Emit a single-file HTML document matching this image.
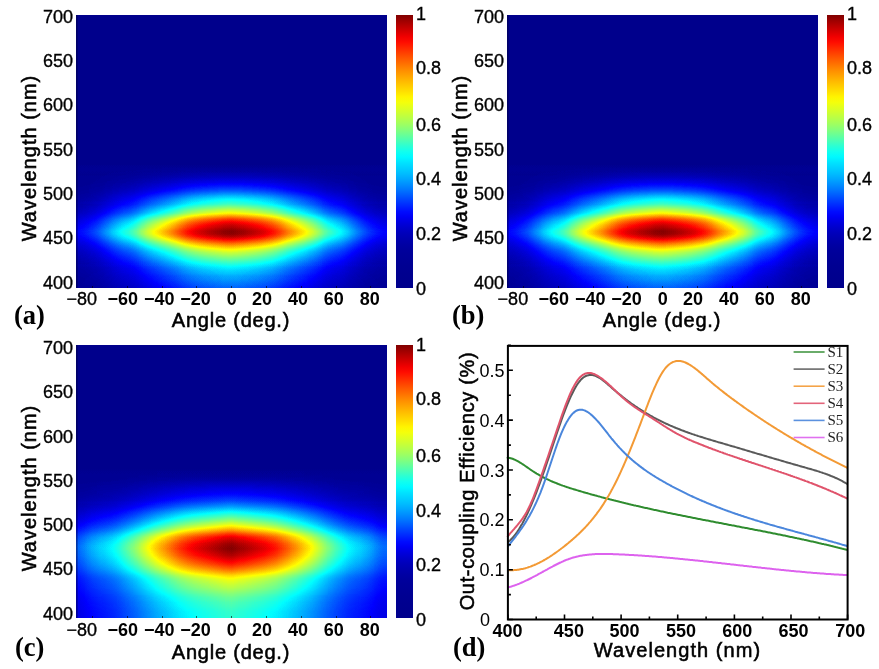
<!DOCTYPE html>
<html><head><meta charset="utf-8"><style>
*{margin:0;padding:0;box-sizing:border-box}
html,body{width:879px;height:669px;background:#fff;overflow:hidden}
body{position:relative;font-family:"Liberation Sans", sans-serif;color:#000}
#wrap{position:absolute;left:0;top:0;width:879px;height:669px;background:#fff;will-change:transform}
.hm{position:absolute;width:311px;height:273px;filter:url(#jet);isolation:isolate;overflow:hidden}
.hm .term{position:absolute;left:0;top:0;width:100%;height:100%;isolation:isolate}
.hm .v,.hm .h{position:absolute;left:0;top:0;width:100%;height:100%}
.hm .h{mix-blend-mode:multiply}
.frame{position:absolute;width:2px;height:273px;background:linear-gradient(to right,rgba(0,0,60,0.55),rgba(0,0,60,0.2))}
.cb{position:absolute;width:17px;height:273px;background:linear-gradient(to top,#00008c 0%,#00008d 2%,#00008e 4%,#000090 6%,#000092 8%,#000095 10%,#000098 12%,#00009c 14%,#0000a4 16%,#0000ae 18%,#0000ba 20%,#0000ca 22%,#0000de 24%,#0000f4 26%,#000cff 28%,#0026ff 30%,#0040ff 32%,#005cff 34%,#0077ff 36%,#0090ff 38%,#00a8ff 40%,#00beff 42%,#00d1ff 44%,#00e4ff 46%,#00f9ff 48%,#11ffee 50%,#2cffd3 52%,#4affb5 54%,#67ff98 56%,#84ff7b 58%,#9eff61 60%,#b5ff4a 62%,#cbff34 64%,#e0ff1f 66%,#f4ff0b 68%,#fff400 70%,#ffdf00 72%,#ffcb00 74%,#ffb600 76%,#ffa000 78%,#ff8a00 80%,#ff7200 82%,#ff5a00 84%,#ff4100 86%,#ff2700 88%,#ff0d00 90%,#f20000 92%,#d60000 94%,#ba0000 96%,#9d0000 98%,#800000 100%)}
.t{position:absolute;white-space:nowrap;line-height:20px;height:20px}
.cbl{font-size:18px;-webkit-text-stroke:0.35px #000}
.yl{font-size:18px;width:72px;text-align:right;-webkit-text-stroke:0.35px #000}
.xl{font-size:18px;font-weight:bold;width:60px;text-align:center}
.tk{position:absolute;width:1px;height:2px;background:rgba(0,0,0,0.6)}
.xt{font-size:20px;width:160px;text-align:center;letter-spacing:0.78px;-webkit-text-stroke:0.55px #000}
.yt{font-size:20px;width:200px;text-align:center;transform:rotate(-90deg);letter-spacing:1.0px;-webkit-text-stroke:0.55px #000}
.pl{font-family:"Liberation Serif", serif;font-size:26.5px;font-weight:bold;line-height:28px;height:28px}
.dyl{font-size:18px;width:60px;text-align:right}
.dxl{font-size:18px;font-weight:bold;width:60px;text-align:center}
.leg{font-family:"Liberation Serif", serif;font-size:15px;line-height:16px;height:16px;color:#222}
</style></head><body>
<div id="wrap"><svg width="0" height="0" style="position:absolute"><filter id="jet" color-interpolation-filters="sRGB" x="0" y="0" width="1" height="1"><feComponentTransfer><feFuncR type="table" tableValues="0 0 0 0 0.5 1 1 1 0.5"/><feFuncG type="table" tableValues="0 0 0.5 1 1 1 0.5 0 0"/><feFuncB type="table" tableValues="0.55 1 1 1 0.5 0 0 0 0"/></feComponentTransfer></filter></svg>
<div class="hm" style="left:76px;top:15px"><div class="term" style=""><div class="v" style="background:linear-gradient(to bottom,#000000 0.00%,#000000 1.10%,#000000 2.20%,#000000 3.30%,#000000 4.40%,#000000 5.49%,#000000 6.59%,#000000 7.69%,#000000 8.79%,#000000 9.89%,#000000 10.99%,#000000 12.09%,#000000 13.19%,#000000 14.29%,#000000 15.38%,#000000 16.48%,#000000 17.58%,#000000 18.68%,#000000 19.78%,#000000 20.88%,#000000 21.98%,#000000 23.08%,#000000 24.18%,#000000 25.27%,#000000 26.37%,#000000 27.47%,#000000 28.57%,#000000 29.67%,#000000 30.77%,#000000 31.87%,#000000 32.97%,#000000 34.07%,#000000 35.16%,#000000 36.26%,#000000 37.36%,#000000 38.46%,#000000 39.56%,#000000 40.66%,#000000 41.76%,#000000 42.86%,#000000 43.96%,#000000 45.05%,#000000 46.15%,#000000 47.25%,#000000 48.35%,#000000 49.45%,#000000 50.55%,#000000 51.65%,#000000 52.75%,#000000 53.85%,#000000 54.95%,#000000 56.04%,#000000 57.14%,#000000 58.24%,#000000 59.34%,#000000 60.44%,#000000 61.54%,#000000 62.64%,#000000 63.74%,#000000 64.84%,#000000 65.93%,#000000 67.03%,#000000 68.13%,#020202 69.23%,#101010 70.33%,#212121 71.43%,#353535 72.53%,#515151 73.63%,#717171 74.73%,#929292 75.82%,#b3b3b3 76.92%,#d3d3d3 78.02%,#f5f5f5 79.12%,#ededed 80.22%,#cdcdcd 81.32%,#a8a8a8 82.42%,#868686 83.52%,#696969 84.62%,#505050 85.71%,#3c3c3c 86.81%,#2b2b2b 87.91%,#1c1c1c 89.01%,#0f0f0f 90.11%,#040404 91.21%,#000000 92.31%,#000000 93.41%,#000000 94.51%,#000000 95.60%,#000000 96.70%,#000000 97.80%,#000000 98.90%,#000000 100.00%)"></div><div class="h" style="background:linear-gradient(to right,#202020 0.00%,#222222 1.29%,#252525 2.57%,#292929 3.86%,#2e2e2e 5.14%,#333333 6.43%,#3a3a3a 7.72%,#424242 9.00%,#494949 10.29%,#525252 11.58%,#595959 12.86%,#606060 14.15%,#666666 15.43%,#6b6b6b 16.72%,#717171 18.01%,#797979 19.29%,#838383 20.58%,#8c8c8c 21.86%,#959595 23.15%,#9d9d9d 24.44%,#a4a4a4 25.72%,#ababab 27.01%,#b2b2b2 28.30%,#b9b9b9 29.58%,#c0c0c0 30.87%,#c8c8c8 32.15%,#d0d0d0 33.44%,#d7d7d7 34.73%,#dedede 36.01%,#e3e3e3 37.30%,#e8e8e8 38.59%,#ececec 39.87%,#efefef 41.16%,#f3f3f3 42.44%,#f5f5f5 43.73%,#f8f8f8 45.02%,#fafafa 46.30%,#fdfdfd 47.59%,#fefefe 48.87%,#ffffff 50.16%,#fdfdfd 51.45%,#fbfbfb 52.73%,#f9f9f9 54.02%,#f6f6f6 55.31%,#f3f3f3 56.59%,#f0f0f0 57.88%,#ededed 59.16%,#e9e9e9 60.45%,#e4e4e4 61.74%,#dfdfdf 63.02%,#d9d9d9 64.31%,#d2d2d2 65.59%,#cacaca 66.88%,#c2c2c2 68.17%,#bbbbbb 69.45%,#b4b4b4 70.74%,#adadad 72.03%,#a6a6a6 73.31%,#9e9e9e 74.60%,#979797 75.88%,#8e8e8e 77.17%,#858585 78.46%,#7b7b7b 79.74%,#737373 81.03%,#6d6d6d 82.32%,#676767 83.60%,#626262 84.89%,#5b5b5b 86.17%,#545454 87.46%,#4b4b4b 88.75%,#434343 90.03%,#3c3c3c 91.32%,#353535 92.60%,#2f2f2f 93.89%,#2a2a2a 95.18%,#262626 96.46%,#232323 97.75%,#202020 99.04%)"></div></div><div class="term" style=";mix-blend-mode:plus-lighter"><div class="v" style="background:linear-gradient(to bottom,#000000 0.00%,#000000 1.10%,#000000 2.20%,#000000 3.30%,#000000 4.40%,#000000 5.49%,#000000 6.59%,#000000 7.69%,#000000 8.79%,#000000 9.89%,#000000 10.99%,#000000 12.09%,#000000 13.19%,#000000 14.29%,#000000 15.38%,#000000 16.48%,#000000 17.58%,#000000 18.68%,#000000 19.78%,#000000 20.88%,#000000 21.98%,#000000 23.08%,#000000 24.18%,#000000 25.27%,#000000 26.37%,#000000 27.47%,#000000 28.57%,#000000 29.67%,#000000 30.77%,#000000 31.87%,#000000 32.97%,#000000 34.07%,#000000 35.16%,#000000 36.26%,#000000 37.36%,#000000 38.46%,#000000 39.56%,#000000 40.66%,#000000 41.76%,#000000 42.86%,#000000 43.96%,#000000 45.05%,#000000 46.15%,#000000 47.25%,#000000 48.35%,#000000 49.45%,#000000 50.55%,#000000 51.65%,#000000 52.75%,#000000 53.85%,#000000 54.95%,#000000 56.04%,#000000 57.14%,#000000 58.24%,#010101 59.34%,#040404 60.44%,#080808 61.54%,#0f0f0f 62.64%,#171717 63.74%,#232323 64.84%,#343434 65.93%,#484848 67.03%,#5c5c5c 68.13%,#6d6d6d 69.23%,#707070 70.33%,#707070 71.43%,#6a6a6a 72.53%,#676767 73.63%,#5f5f5f 74.73%,#4f4f4f 75.82%,#3a3a3a 76.92%,#222222 78.02%,#090909 79.12%,#0f0f0f 80.22%,#242424 81.32%,#353535 82.42%,#424242 83.52%,#4c4c4c 84.62%,#535353 85.71%,#595959 86.81%,#5f5f5f 87.91%,#636363 89.01%,#656565 90.11%,#656565 91.21%,#5a5a5a 92.31%,#4b4b4b 93.41%,#3f3f3f 94.51%,#333333 95.60%,#2a2a2a 96.70%,#212121 97.80%,#191919 98.90%,#121212 100.00%)"></div><div class="h" style="background:linear-gradient(to right,#0e0e0e 0.00%,#0f0f0f 1.29%,#111111 2.57%,#141414 3.86%,#171717 5.14%,#1b1b1b 6.43%,#202020 7.72%,#262626 9.00%,#2d2d2d 10.29%,#343434 11.58%,#3b3b3b 12.86%,#414141 14.15%,#474747 15.43%,#4c4c4c 16.72%,#525252 18.01%,#5a5a5a 19.29%,#646464 20.58%,#6e6e6e 21.86%,#787878 23.15%,#818181 24.44%,#898989 25.72%,#929292 27.01%,#9a9a9a 28.30%,#a3a3a3 29.58%,#acacac 30.87%,#b5b5b5 32.15%,#bfbfbf 33.44%,#c9c9c9 34.73%,#d2d2d2 36.01%,#d9d9d9 37.30%,#dfdfdf 38.59%,#e5e5e5 39.87%,#eaeaea 41.16%,#eeeeee 42.44%,#f2f2f2 43.73%,#f5f5f5 45.02%,#f9f9f9 46.30%,#fcfcfc 47.59%,#fefefe 48.87%,#fefefe 50.16%,#fcfcfc 51.45%,#f9f9f9 52.73%,#f6f6f6 54.02%,#f3f3f3 55.31%,#efefef 56.59%,#ebebeb 57.88%,#e6e6e6 59.16%,#e0e0e0 60.45%,#dadada 61.74%,#d4d4d4 63.02%,#cbcbcb 64.31%,#c2c2c2 65.59%,#b8b8b8 66.88%,#aeaeae 68.17%,#a5a5a5 69.45%,#9c9c9c 70.74%,#949494 72.03%,#8c8c8c 73.31%,#838383 74.60%,#7a7a7a 75.88%,#717171 77.17%,#676767 78.46%,#5c5c5c 79.74%,#545454 81.03%,#4d4d4d 82.32%,#484848 83.60%,#434343 84.89%,#3d3d3d 86.17%,#353535 87.46%,#2e2e2e 88.75%,#282828 90.03%,#222222 91.32%,#1c1c1c 92.60%,#181818 93.89%,#151515 95.18%,#121212 96.46%,#101010 97.75%,#0e0e0e 99.04%)"></div></div><div class="term" style=";mix-blend-mode:plus-lighter"><div class="v" style="background:linear-gradient(to bottom,#000000 0.00%,#000000 1.10%,#000000 2.20%,#000000 3.30%,#000000 4.40%,#000000 5.49%,#000000 6.59%,#000000 7.69%,#000000 8.79%,#000000 9.89%,#000000 10.99%,#000000 12.09%,#000000 13.19%,#000000 14.29%,#000000 15.38%,#000000 16.48%,#000000 17.58%,#000000 18.68%,#000000 19.78%,#000000 20.88%,#000000 21.98%,#000000 23.08%,#000000 24.18%,#000000 25.27%,#000000 26.37%,#000000 27.47%,#000000 28.57%,#000000 29.67%,#000000 30.77%,#000000 31.87%,#000000 32.97%,#000000 34.07%,#000000 35.16%,#000000 36.26%,#000000 37.36%,#000000 38.46%,#000000 39.56%,#000000 40.66%,#000000 41.76%,#000000 42.86%,#000000 43.96%,#000000 45.05%,#000000 46.15%,#000000 47.25%,#000000 48.35%,#000000 49.45%,#000000 50.55%,#000000 51.65%,#000000 52.75%,#000000 53.85%,#000000 54.95%,#020202 56.04%,#040404 57.14%,#090909 58.24%,#0d0d0d 59.34%,#111111 60.44%,#151515 61.54%,#171717 62.64%,#181818 63.74%,#181818 64.84%,#161616 65.93%,#111111 67.03%,#090909 68.13%,#000000 69.23%,#000000 70.33%,#000000 71.43%,#000000 72.53%,#000000 73.63%,#000000 74.73%,#000000 75.82%,#000000 76.92%,#000000 78.02%,#000000 79.12%,#000000 80.22%,#000000 81.32%,#000000 82.42%,#000000 83.52%,#000000 84.62%,#000000 85.71%,#000000 86.81%,#000000 87.91%,#000000 89.01%,#000000 90.11%,#000000 91.21%,#050505 92.31%,#0c0c0c 93.41%,#131313 94.51%,#181818 95.60%,#1d1d1d 96.70%,#212121 97.80%,#242424 98.90%,#272727 100.00%)"></div><div class="h" style="background:linear-gradient(to right,#060606 0.00%,#070707 1.29%,#080808 2.57%,#0a0a0a 3.86%,#0c0c0c 5.14%,#0e0e0e 6.43%,#121212 7.72%,#161616 9.00%,#1b1b1b 10.29%,#212121 11.58%,#272727 12.86%,#2c2c2c 14.15%,#313131 15.43%,#363636 16.72%,#3b3b3b 18.01%,#434343 19.29%,#4d4d4d 20.58%,#575757 21.86%,#606060 23.15%,#6a6a6a 24.44%,#737373 25.72%,#7c7c7c 27.01%,#868686 28.30%,#8f8f8f 29.58%,#999999 30.87%,#a4a4a4 32.15%,#b0b0b0 33.44%,#bcbcbc 34.73%,#c6c6c6 36.01%,#cfcfcf 37.30%,#d7d7d7 38.59%,#dedede 39.87%,#e4e4e4 41.16%,#e9e9e9 42.44%,#eeeeee 43.73%,#f3f3f3 45.02%,#f7f7f7 46.30%,#fbfbfb 47.59%,#fefefe 48.87%,#fefefe 50.16%,#fbfbfb 51.45%,#f8f8f8 52.73%,#f4f4f4 54.02%,#efefef 55.31%,#eaeaea 56.59%,#e5e5e5 57.88%,#dfdfdf 59.16%,#d8d8d8 60.45%,#d1d1d1 61.74%,#c9c9c9 63.02%,#bfbfbf 64.31%,#b3b3b3 65.59%,#a7a7a7 66.88%,#9c9c9c 68.17%,#929292 69.45%,#888888 70.74%,#7f7f7f 72.03%,#767676 73.31%,#6c6c6c 74.60%,#636363 75.88%,#595959 77.17%,#4f4f4f 78.46%,#454545 79.74%,#3d3d3d 81.03%,#373737 82.32%,#323232 83.60%,#2e2e2e 84.89%,#282828 86.17%,#222222 87.46%,#1c1c1c 88.75%,#171717 90.03%,#131313 91.32%,#0f0f0f 92.60%,#0c0c0c 93.89%,#0a0a0a 95.18%,#080808 96.46%,#070707 97.75%,#060606 99.04%)"></div></div><div class="term" style=";mix-blend-mode:plus-lighter"><div class="v" style="background:linear-gradient(to bottom,#000000 0.00%,#000000 1.10%,#000000 2.20%,#000000 3.30%,#000000 4.40%,#000000 5.49%,#000000 6.59%,#000000 7.69%,#000000 8.79%,#000000 9.89%,#000000 10.99%,#000000 12.09%,#000000 13.19%,#000000 14.29%,#000000 15.38%,#000000 16.48%,#000000 17.58%,#000000 18.68%,#000000 19.78%,#000000 20.88%,#000000 21.98%,#000000 23.08%,#000000 24.18%,#000000 25.27%,#000000 26.37%,#000000 27.47%,#000000 28.57%,#000000 29.67%,#000000 30.77%,#000000 31.87%,#000000 32.97%,#000000 34.07%,#000000 35.16%,#000000 36.26%,#000000 37.36%,#000000 38.46%,#000000 39.56%,#000000 40.66%,#000000 41.76%,#000000 42.86%,#000000 43.96%,#000000 45.05%,#000000 46.15%,#000000 47.25%,#000000 48.35%,#000000 49.45%,#000000 50.55%,#000000 51.65%,#000000 52.75%,#000000 53.85%,#000000 54.95%,#010101 56.04%,#010101 57.14%,#000000 58.24%,#000000 59.34%,#000000 60.44%,#000000 61.54%,#000000 62.64%,#000000 63.74%,#000000 64.84%,#000000 65.93%,#000000 67.03%,#000000 68.13%,#000000 69.23%,#000000 70.33%,#000000 71.43%,#000000 72.53%,#000000 73.63%,#000000 74.73%,#000000 75.82%,#000000 76.92%,#000000 78.02%,#000000 79.12%,#000000 80.22%,#000000 81.32%,#000000 82.42%,#000000 83.52%,#000000 84.62%,#000000 85.71%,#000000 86.81%,#000000 87.91%,#000000 89.01%,#000000 90.11%,#000000 91.21%,#000000 92.31%,#000000 93.41%,#000000 94.51%,#000000 95.60%,#000000 96.70%,#000000 97.80%,#000000 98.90%,#000000 100.00%)"></div><div class="h" style="background:linear-gradient(to right,#030303 0.00%,#030303 1.29%,#040404 2.57%,#050505 3.86%,#060606 5.14%,#080808 6.43%,#0a0a0a 7.72%,#0d0d0d 9.00%,#101010 10.29%,#151515 11.58%,#191919 12.86%,#1e1e1e 14.15%,#222222 15.43%,#262626 16.72%,#2b2b2b 18.01%,#323232 19.29%,#3b3b3b 20.58%,#444444 21.86%,#4e4e4e 23.15%,#575757 24.44%,#616161 25.72%,#6a6a6a 27.01%,#747474 28.30%,#7e7e7e 29.58%,#898989 30.87%,#959595 32.15%,#a2a2a2 33.44%,#b0b0b0 34.73%,#bcbcbc 36.01%,#c5c5c5 37.30%,#cecece 38.59%,#d7d7d7 39.87%,#dedede 41.16%,#e5e5e5 42.44%,#eaeaea 43.73%,#f0f0f0 45.02%,#f5f5f5 46.30%,#fafafa 47.59%,#fdfdfd 48.87%,#fefefe 50.16%,#fbfbfb 51.45%,#f6f6f6 52.73%,#f1f1f1 54.02%,#ececec 55.31%,#e6e6e6 56.59%,#e0e0e0 57.88%,#d9d9d9 59.16%,#d1d1d1 60.45%,#c8c8c8 61.74%,#bebebe 63.02%,#b3b3b3 64.31%,#a6a6a6 65.59%,#989898 66.88%,#8c8c8c 68.17%,#818181 69.45%,#767676 70.74%,#6d6d6d 72.03%,#636363 73.31%,#595959 74.60%,#505050 75.88%,#474747 77.17%,#3d3d3d 78.46%,#343434 79.74%,#2c2c2c 81.03%,#272727 82.32%,#232323 83.60%,#1f1f1f 84.89%,#1b1b1b 86.17%,#161616 87.46%,#111111 88.75%,#0e0e0e 90.03%,#0b0b0b 91.32%,#080808 92.60%,#060606 93.89%,#050505 95.18%,#040404 96.46%,#030303 97.75%,#030303 99.04%)"></div></div></div>
<div class="frame" style="left:76px;top:15px"></div>
<div class="cb" style="left:396px;top:15px"></div>
<div class="t cbl" style="left:416px;top:278.5px">0</div>
<div class="t cbl" style="left:416px;top:223.9px">0.2</div>
<div class="t cbl" style="left:416px;top:169.3px">0.4</div>
<div class="t cbl" style="left:416px;top:114.7px">0.6</div>
<div class="t cbl" style="left:416px;top:58.1px">0.8</div>
<div class="t cbl" style="left:416px;top:3.5px">1</div>
<div class="t yl" style="left:1px;top:272.5px">400</div>
<div class="t yl" style="left:1px;top:228.2px">450</div>
<div class="t yl" style="left:1px;top:183.9px">500</div>
<div class="t yl" style="left:1px;top:139.6px">550</div>
<div class="t yl" style="left:1px;top:95.3px">600</div>
<div class="t yl" style="left:1px;top:51.0px">650</div>
<div class="t yl" style="left:1px;top:6.7px">700</div>
<div class="t xl" style="left:51.8px;top:288.5px"><span style="font-weight:normal;-webkit-text-stroke:0.35px #000">−80</span></div>
<div class="t xl" style="left:92.8px;top:288.5px">−60</div>
<div class="t xl" style="left:129.3px;top:288.5px">−40</div>
<div class="t xl" style="left:165.6px;top:288.5px">−20</div>
<div class="t xl" style="left:201.8px;top:288.5px">0</div>
<div class="t xl" style="left:232.1px;top:288.5px">20</div>
<div class="t xl" style="left:268.0px;top:288.5px">40</div>
<div class="t xl" style="left:303.8px;top:288.5px">60</div>
<div class="t xl" style="left:339.7px;top:288.5px">80</div>
<div class="tk" style="left:92.0px;top:286px"></div>
<div class="tk" style="left:126.8px;top:286px"></div>
<div class="tk" style="left:161.6px;top:286px"></div>
<div class="tk" style="left:196.4px;top:286px"></div>
<div class="tk" style="left:231.2px;top:286px"></div>
<div class="tk" style="left:266.0px;top:286px"></div>
<div class="tk" style="left:300.8px;top:286px"></div>
<div class="tk" style="left:335.6px;top:286px"></div>
<div class="tk" style="left:370.4px;top:286px"></div>
<div class="t xt" style="left:131px;top:310.3px;width:200px">Angle (deg.)</div>
<div class="t yt" style="left:-70.7px;top:148px">Wavelength (nm)</div>
<div class="t pl" style="left:14px;top:301px">(a)</div>
<div class="hm" style="left:507px;top:15px"><div class="term" style=""><div class="v" style="background:linear-gradient(to bottom,#000000 0.00%,#000000 1.10%,#000000 2.20%,#000000 3.30%,#000000 4.40%,#000000 5.49%,#000000 6.59%,#000000 7.69%,#000000 8.79%,#000000 9.89%,#000000 10.99%,#000000 12.09%,#000000 13.19%,#000000 14.29%,#000000 15.38%,#000000 16.48%,#000000 17.58%,#000000 18.68%,#000000 19.78%,#000000 20.88%,#000000 21.98%,#000000 23.08%,#000000 24.18%,#000000 25.27%,#000000 26.37%,#000000 27.47%,#000000 28.57%,#000000 29.67%,#000000 30.77%,#000000 31.87%,#000000 32.97%,#000000 34.07%,#000000 35.16%,#000000 36.26%,#000000 37.36%,#000000 38.46%,#000000 39.56%,#000000 40.66%,#000000 41.76%,#000000 42.86%,#000000 43.96%,#000000 45.05%,#000000 46.15%,#000000 47.25%,#000000 48.35%,#000000 49.45%,#000000 50.55%,#000000 51.65%,#000000 52.75%,#000000 53.85%,#000000 54.95%,#000000 56.04%,#000000 57.14%,#000000 58.24%,#000000 59.34%,#000000 60.44%,#000000 61.54%,#000000 62.64%,#000000 63.74%,#000000 64.84%,#000000 65.93%,#000000 67.03%,#000000 68.13%,#020202 69.23%,#101010 70.33%,#212121 71.43%,#353535 72.53%,#515151 73.63%,#717171 74.73%,#929292 75.82%,#b3b3b3 76.92%,#d3d3d3 78.02%,#f5f5f5 79.12%,#ededed 80.22%,#cdcdcd 81.32%,#a8a8a8 82.42%,#868686 83.52%,#696969 84.62%,#505050 85.71%,#3c3c3c 86.81%,#2b2b2b 87.91%,#1c1c1c 89.01%,#0f0f0f 90.11%,#040404 91.21%,#000000 92.31%,#000000 93.41%,#000000 94.51%,#000000 95.60%,#000000 96.70%,#000000 97.80%,#000000 98.90%,#000000 100.00%)"></div><div class="h" style="background:linear-gradient(to right,#202020 0.00%,#222222 1.29%,#252525 2.57%,#292929 3.86%,#2e2e2e 5.14%,#333333 6.43%,#3a3a3a 7.72%,#424242 9.00%,#494949 10.29%,#525252 11.58%,#595959 12.86%,#606060 14.15%,#666666 15.43%,#6b6b6b 16.72%,#717171 18.01%,#797979 19.29%,#838383 20.58%,#8c8c8c 21.86%,#959595 23.15%,#9d9d9d 24.44%,#a4a4a4 25.72%,#ababab 27.01%,#b2b2b2 28.30%,#b9b9b9 29.58%,#c0c0c0 30.87%,#c8c8c8 32.15%,#d0d0d0 33.44%,#d7d7d7 34.73%,#dedede 36.01%,#e3e3e3 37.30%,#e8e8e8 38.59%,#ececec 39.87%,#efefef 41.16%,#f3f3f3 42.44%,#f5f5f5 43.73%,#f8f8f8 45.02%,#fafafa 46.30%,#fdfdfd 47.59%,#fefefe 48.87%,#ffffff 50.16%,#fdfdfd 51.45%,#fbfbfb 52.73%,#f9f9f9 54.02%,#f6f6f6 55.31%,#f3f3f3 56.59%,#f0f0f0 57.88%,#ededed 59.16%,#e9e9e9 60.45%,#e4e4e4 61.74%,#dfdfdf 63.02%,#d9d9d9 64.31%,#d2d2d2 65.59%,#cacaca 66.88%,#c2c2c2 68.17%,#bbbbbb 69.45%,#b4b4b4 70.74%,#adadad 72.03%,#a6a6a6 73.31%,#9e9e9e 74.60%,#979797 75.88%,#8e8e8e 77.17%,#858585 78.46%,#7b7b7b 79.74%,#737373 81.03%,#6d6d6d 82.32%,#676767 83.60%,#626262 84.89%,#5b5b5b 86.17%,#545454 87.46%,#4b4b4b 88.75%,#434343 90.03%,#3c3c3c 91.32%,#353535 92.60%,#2f2f2f 93.89%,#2a2a2a 95.18%,#262626 96.46%,#232323 97.75%,#202020 99.04%)"></div></div><div class="term" style=";mix-blend-mode:plus-lighter"><div class="v" style="background:linear-gradient(to bottom,#000000 0.00%,#000000 1.10%,#000000 2.20%,#000000 3.30%,#000000 4.40%,#000000 5.49%,#000000 6.59%,#000000 7.69%,#000000 8.79%,#000000 9.89%,#000000 10.99%,#000000 12.09%,#000000 13.19%,#000000 14.29%,#000000 15.38%,#000000 16.48%,#000000 17.58%,#000000 18.68%,#000000 19.78%,#000000 20.88%,#000000 21.98%,#000000 23.08%,#000000 24.18%,#000000 25.27%,#000000 26.37%,#000000 27.47%,#000000 28.57%,#000000 29.67%,#000000 30.77%,#000000 31.87%,#000000 32.97%,#000000 34.07%,#000000 35.16%,#000000 36.26%,#000000 37.36%,#000000 38.46%,#000000 39.56%,#000000 40.66%,#000000 41.76%,#000000 42.86%,#000000 43.96%,#000000 45.05%,#000000 46.15%,#000000 47.25%,#000000 48.35%,#000000 49.45%,#000000 50.55%,#000000 51.65%,#000000 52.75%,#000000 53.85%,#000000 54.95%,#000000 56.04%,#000000 57.14%,#000000 58.24%,#010101 59.34%,#040404 60.44%,#080808 61.54%,#0f0f0f 62.64%,#171717 63.74%,#232323 64.84%,#343434 65.93%,#484848 67.03%,#5c5c5c 68.13%,#6d6d6d 69.23%,#707070 70.33%,#707070 71.43%,#6a6a6a 72.53%,#676767 73.63%,#5f5f5f 74.73%,#4f4f4f 75.82%,#3a3a3a 76.92%,#222222 78.02%,#090909 79.12%,#0f0f0f 80.22%,#242424 81.32%,#353535 82.42%,#424242 83.52%,#4c4c4c 84.62%,#535353 85.71%,#595959 86.81%,#5f5f5f 87.91%,#636363 89.01%,#656565 90.11%,#656565 91.21%,#5a5a5a 92.31%,#4b4b4b 93.41%,#3f3f3f 94.51%,#333333 95.60%,#2a2a2a 96.70%,#212121 97.80%,#191919 98.90%,#121212 100.00%)"></div><div class="h" style="background:linear-gradient(to right,#0e0e0e 0.00%,#0f0f0f 1.29%,#111111 2.57%,#141414 3.86%,#171717 5.14%,#1b1b1b 6.43%,#202020 7.72%,#262626 9.00%,#2d2d2d 10.29%,#343434 11.58%,#3b3b3b 12.86%,#414141 14.15%,#474747 15.43%,#4c4c4c 16.72%,#525252 18.01%,#5a5a5a 19.29%,#646464 20.58%,#6e6e6e 21.86%,#787878 23.15%,#818181 24.44%,#898989 25.72%,#929292 27.01%,#9a9a9a 28.30%,#a3a3a3 29.58%,#acacac 30.87%,#b5b5b5 32.15%,#bfbfbf 33.44%,#c9c9c9 34.73%,#d2d2d2 36.01%,#d9d9d9 37.30%,#dfdfdf 38.59%,#e5e5e5 39.87%,#eaeaea 41.16%,#eeeeee 42.44%,#f2f2f2 43.73%,#f5f5f5 45.02%,#f9f9f9 46.30%,#fcfcfc 47.59%,#fefefe 48.87%,#fefefe 50.16%,#fcfcfc 51.45%,#f9f9f9 52.73%,#f6f6f6 54.02%,#f3f3f3 55.31%,#efefef 56.59%,#ebebeb 57.88%,#e6e6e6 59.16%,#e0e0e0 60.45%,#dadada 61.74%,#d4d4d4 63.02%,#cbcbcb 64.31%,#c2c2c2 65.59%,#b8b8b8 66.88%,#aeaeae 68.17%,#a5a5a5 69.45%,#9c9c9c 70.74%,#949494 72.03%,#8c8c8c 73.31%,#838383 74.60%,#7a7a7a 75.88%,#717171 77.17%,#676767 78.46%,#5c5c5c 79.74%,#545454 81.03%,#4d4d4d 82.32%,#484848 83.60%,#434343 84.89%,#3d3d3d 86.17%,#353535 87.46%,#2e2e2e 88.75%,#282828 90.03%,#222222 91.32%,#1c1c1c 92.60%,#181818 93.89%,#151515 95.18%,#121212 96.46%,#101010 97.75%,#0e0e0e 99.04%)"></div></div><div class="term" style=";mix-blend-mode:plus-lighter"><div class="v" style="background:linear-gradient(to bottom,#000000 0.00%,#000000 1.10%,#000000 2.20%,#000000 3.30%,#000000 4.40%,#000000 5.49%,#000000 6.59%,#000000 7.69%,#000000 8.79%,#000000 9.89%,#000000 10.99%,#000000 12.09%,#000000 13.19%,#000000 14.29%,#000000 15.38%,#000000 16.48%,#000000 17.58%,#000000 18.68%,#000000 19.78%,#000000 20.88%,#000000 21.98%,#000000 23.08%,#000000 24.18%,#000000 25.27%,#000000 26.37%,#000000 27.47%,#000000 28.57%,#000000 29.67%,#000000 30.77%,#000000 31.87%,#000000 32.97%,#000000 34.07%,#000000 35.16%,#000000 36.26%,#000000 37.36%,#000000 38.46%,#000000 39.56%,#000000 40.66%,#000000 41.76%,#000000 42.86%,#000000 43.96%,#000000 45.05%,#000000 46.15%,#000000 47.25%,#000000 48.35%,#000000 49.45%,#000000 50.55%,#000000 51.65%,#000000 52.75%,#000000 53.85%,#000000 54.95%,#020202 56.04%,#040404 57.14%,#090909 58.24%,#0d0d0d 59.34%,#111111 60.44%,#151515 61.54%,#171717 62.64%,#181818 63.74%,#181818 64.84%,#161616 65.93%,#111111 67.03%,#090909 68.13%,#000000 69.23%,#000000 70.33%,#000000 71.43%,#000000 72.53%,#000000 73.63%,#000000 74.73%,#000000 75.82%,#000000 76.92%,#000000 78.02%,#000000 79.12%,#000000 80.22%,#000000 81.32%,#000000 82.42%,#000000 83.52%,#000000 84.62%,#000000 85.71%,#000000 86.81%,#000000 87.91%,#000000 89.01%,#000000 90.11%,#000000 91.21%,#050505 92.31%,#0c0c0c 93.41%,#131313 94.51%,#181818 95.60%,#1d1d1d 96.70%,#212121 97.80%,#242424 98.90%,#272727 100.00%)"></div><div class="h" style="background:linear-gradient(to right,#060606 0.00%,#070707 1.29%,#080808 2.57%,#0a0a0a 3.86%,#0c0c0c 5.14%,#0e0e0e 6.43%,#121212 7.72%,#161616 9.00%,#1b1b1b 10.29%,#212121 11.58%,#272727 12.86%,#2c2c2c 14.15%,#313131 15.43%,#363636 16.72%,#3b3b3b 18.01%,#434343 19.29%,#4d4d4d 20.58%,#575757 21.86%,#606060 23.15%,#6a6a6a 24.44%,#737373 25.72%,#7c7c7c 27.01%,#868686 28.30%,#8f8f8f 29.58%,#999999 30.87%,#a4a4a4 32.15%,#b0b0b0 33.44%,#bcbcbc 34.73%,#c6c6c6 36.01%,#cfcfcf 37.30%,#d7d7d7 38.59%,#dedede 39.87%,#e4e4e4 41.16%,#e9e9e9 42.44%,#eeeeee 43.73%,#f3f3f3 45.02%,#f7f7f7 46.30%,#fbfbfb 47.59%,#fefefe 48.87%,#fefefe 50.16%,#fbfbfb 51.45%,#f8f8f8 52.73%,#f4f4f4 54.02%,#efefef 55.31%,#eaeaea 56.59%,#e5e5e5 57.88%,#dfdfdf 59.16%,#d8d8d8 60.45%,#d1d1d1 61.74%,#c9c9c9 63.02%,#bfbfbf 64.31%,#b3b3b3 65.59%,#a7a7a7 66.88%,#9c9c9c 68.17%,#929292 69.45%,#888888 70.74%,#7f7f7f 72.03%,#767676 73.31%,#6c6c6c 74.60%,#636363 75.88%,#595959 77.17%,#4f4f4f 78.46%,#454545 79.74%,#3d3d3d 81.03%,#373737 82.32%,#323232 83.60%,#2e2e2e 84.89%,#282828 86.17%,#222222 87.46%,#1c1c1c 88.75%,#171717 90.03%,#131313 91.32%,#0f0f0f 92.60%,#0c0c0c 93.89%,#0a0a0a 95.18%,#080808 96.46%,#070707 97.75%,#060606 99.04%)"></div></div><div class="term" style=";mix-blend-mode:plus-lighter"><div class="v" style="background:linear-gradient(to bottom,#000000 0.00%,#000000 1.10%,#000000 2.20%,#000000 3.30%,#000000 4.40%,#000000 5.49%,#000000 6.59%,#000000 7.69%,#000000 8.79%,#000000 9.89%,#000000 10.99%,#000000 12.09%,#000000 13.19%,#000000 14.29%,#000000 15.38%,#000000 16.48%,#000000 17.58%,#000000 18.68%,#000000 19.78%,#000000 20.88%,#000000 21.98%,#000000 23.08%,#000000 24.18%,#000000 25.27%,#000000 26.37%,#000000 27.47%,#000000 28.57%,#000000 29.67%,#000000 30.77%,#000000 31.87%,#000000 32.97%,#000000 34.07%,#000000 35.16%,#000000 36.26%,#000000 37.36%,#000000 38.46%,#000000 39.56%,#000000 40.66%,#000000 41.76%,#000000 42.86%,#000000 43.96%,#000000 45.05%,#000000 46.15%,#000000 47.25%,#000000 48.35%,#000000 49.45%,#000000 50.55%,#000000 51.65%,#000000 52.75%,#000000 53.85%,#000000 54.95%,#010101 56.04%,#010101 57.14%,#000000 58.24%,#000000 59.34%,#000000 60.44%,#000000 61.54%,#000000 62.64%,#000000 63.74%,#000000 64.84%,#000000 65.93%,#000000 67.03%,#000000 68.13%,#000000 69.23%,#000000 70.33%,#000000 71.43%,#000000 72.53%,#000000 73.63%,#000000 74.73%,#000000 75.82%,#000000 76.92%,#000000 78.02%,#000000 79.12%,#000000 80.22%,#000000 81.32%,#000000 82.42%,#000000 83.52%,#000000 84.62%,#000000 85.71%,#000000 86.81%,#000000 87.91%,#000000 89.01%,#000000 90.11%,#000000 91.21%,#000000 92.31%,#000000 93.41%,#000000 94.51%,#000000 95.60%,#000000 96.70%,#000000 97.80%,#000000 98.90%,#000000 100.00%)"></div><div class="h" style="background:linear-gradient(to right,#030303 0.00%,#030303 1.29%,#040404 2.57%,#050505 3.86%,#060606 5.14%,#080808 6.43%,#0a0a0a 7.72%,#0d0d0d 9.00%,#101010 10.29%,#151515 11.58%,#191919 12.86%,#1e1e1e 14.15%,#222222 15.43%,#262626 16.72%,#2b2b2b 18.01%,#323232 19.29%,#3b3b3b 20.58%,#444444 21.86%,#4e4e4e 23.15%,#575757 24.44%,#616161 25.72%,#6a6a6a 27.01%,#747474 28.30%,#7e7e7e 29.58%,#898989 30.87%,#959595 32.15%,#a2a2a2 33.44%,#b0b0b0 34.73%,#bcbcbc 36.01%,#c5c5c5 37.30%,#cecece 38.59%,#d7d7d7 39.87%,#dedede 41.16%,#e5e5e5 42.44%,#eaeaea 43.73%,#f0f0f0 45.02%,#f5f5f5 46.30%,#fafafa 47.59%,#fdfdfd 48.87%,#fefefe 50.16%,#fbfbfb 51.45%,#f6f6f6 52.73%,#f1f1f1 54.02%,#ececec 55.31%,#e6e6e6 56.59%,#e0e0e0 57.88%,#d9d9d9 59.16%,#d1d1d1 60.45%,#c8c8c8 61.74%,#bebebe 63.02%,#b3b3b3 64.31%,#a6a6a6 65.59%,#989898 66.88%,#8c8c8c 68.17%,#818181 69.45%,#767676 70.74%,#6d6d6d 72.03%,#636363 73.31%,#595959 74.60%,#505050 75.88%,#474747 77.17%,#3d3d3d 78.46%,#343434 79.74%,#2c2c2c 81.03%,#272727 82.32%,#232323 83.60%,#1f1f1f 84.89%,#1b1b1b 86.17%,#161616 87.46%,#111111 88.75%,#0e0e0e 90.03%,#0b0b0b 91.32%,#080808 92.60%,#060606 93.89%,#050505 95.18%,#040404 96.46%,#030303 97.75%,#030303 99.04%)"></div></div></div>
<div class="frame" style="left:507px;top:15px"></div>
<div class="cb" style="left:827px;top:15px"></div>
<div class="t cbl" style="left:847px;top:278.5px">0</div>
<div class="t cbl" style="left:847px;top:223.9px">0.2</div>
<div class="t cbl" style="left:847px;top:169.3px">0.4</div>
<div class="t cbl" style="left:847px;top:114.7px">0.6</div>
<div class="t cbl" style="left:847px;top:58.1px">0.8</div>
<div class="t cbl" style="left:847px;top:3.5px">1</div>
<div class="t yl" style="left:432px;top:272.5px">400</div>
<div class="t yl" style="left:432px;top:228.2px">450</div>
<div class="t yl" style="left:432px;top:183.9px">500</div>
<div class="t yl" style="left:432px;top:139.6px">550</div>
<div class="t yl" style="left:432px;top:95.3px">600</div>
<div class="t yl" style="left:432px;top:51.0px">650</div>
<div class="t yl" style="left:432px;top:6.7px">700</div>
<div class="t xl" style="left:482.9px;top:288.5px"><span style="font-weight:normal;-webkit-text-stroke:0.35px #000">−80</span></div>
<div class="t xl" style="left:523.8px;top:288.5px">−60</div>
<div class="t xl" style="left:560.3px;top:288.5px">−40</div>
<div class="t xl" style="left:596.6px;top:288.5px">−20</div>
<div class="t xl" style="left:632.8px;top:288.5px">0</div>
<div class="t xl" style="left:663.1px;top:288.5px">20</div>
<div class="t xl" style="left:699.0px;top:288.5px">40</div>
<div class="t xl" style="left:734.8px;top:288.5px">60</div>
<div class="t xl" style="left:770.7px;top:288.5px">80</div>
<div class="tk" style="left:523.0px;top:286px"></div>
<div class="tk" style="left:557.8px;top:286px"></div>
<div class="tk" style="left:592.6px;top:286px"></div>
<div class="tk" style="left:627.4px;top:286px"></div>
<div class="tk" style="left:662.2px;top:286px"></div>
<div class="tk" style="left:697.0px;top:286px"></div>
<div class="tk" style="left:731.8px;top:286px"></div>
<div class="tk" style="left:766.6px;top:286px"></div>
<div class="tk" style="left:801.4px;top:286px"></div>
<div class="t xt" style="left:562px;top:310.3px;width:200px">Angle (deg.)</div>
<div class="t yt" style="left:360.3px;top:148px">Wavelength (nm)</div>
<div class="t pl" style="left:452px;top:301px">(b)</div>
<div class="hm" style="left:76px;top:345px"><div class="term" style=""><div class="v" style="background:linear-gradient(to bottom,#000000 0.00%,#000000 1.10%,#000000 2.20%,#000000 3.30%,#000000 4.40%,#000000 5.49%,#000000 6.59%,#000000 7.69%,#000000 8.79%,#000000 9.89%,#000000 10.99%,#000000 12.09%,#000000 13.19%,#000000 14.29%,#000000 15.38%,#000000 16.48%,#000000 17.58%,#000000 18.68%,#000000 19.78%,#000000 20.88%,#000000 21.98%,#000000 23.08%,#000000 24.18%,#000000 25.27%,#000000 26.37%,#000000 27.47%,#000000 28.57%,#000000 29.67%,#000000 30.77%,#000000 31.87%,#000000 32.97%,#000000 34.07%,#000000 35.16%,#000000 36.26%,#000000 37.36%,#000000 38.46%,#000000 39.56%,#000000 40.66%,#000000 41.76%,#000000 42.86%,#000000 43.96%,#000000 45.05%,#000000 46.15%,#000000 47.25%,#000000 48.35%,#000000 49.45%,#000000 50.55%,#000000 51.65%,#000000 52.75%,#000000 53.85%,#000000 54.95%,#000000 56.04%,#000000 57.14%,#020202 58.24%,#080808 59.34%,#111111 60.44%,#1c1c1c 61.54%,#282828 62.64%,#373737 63.74%,#484848 64.84%,#5b5b5b 65.93%,#727272 67.03%,#8c8c8c 68.13%,#aaaaaa 69.23%,#c6c6c6 70.33%,#dddddd 71.43%,#f0f0f0 72.53%,#fcfcfc 73.63%,#ffffff 74.73%,#fafafa 75.82%,#f5f5f5 76.92%,#ededed 78.02%,#e4e4e4 79.12%,#dbdbdb 80.22%,#d0d0d0 81.32%,#c4c4c4 82.42%,#b6b6b6 83.52%,#a8a8a8 84.62%,#9e9e9e 85.71%,#989898 86.81%,#939393 87.91%,#8e8e8e 89.01%,#888888 90.11%,#828282 91.21%,#7c7c7c 92.31%,#787878 93.41%,#747474 94.51%,#727272 95.60%,#6f6f6f 96.70%,#6d6d6d 97.80%,#6c6c6c 98.90%,#6b6b6b 100.00%)"></div><div class="h" style="background:linear-gradient(to right,#393939 0.00%,#3c3c3c 1.29%,#414141 2.57%,#474747 3.86%,#4c4c4c 5.14%,#505050 6.43%,#545454 7.72%,#575757 9.00%,#5b5b5b 10.29%,#5f5f5f 11.58%,#646464 12.86%,#6a6a6a 14.15%,#717171 15.43%,#787878 16.72%,#7f7f7f 18.01%,#868686 19.29%,#8e8e8e 20.58%,#969696 21.86%,#9e9e9e 23.15%,#a5a5a5 24.44%,#adadad 25.72%,#b4b4b4 27.01%,#bababa 28.30%,#c1c1c1 29.58%,#c7c7c7 30.87%,#cecece 32.15%,#d4d4d4 33.44%,#d9d9d9 34.73%,#dedede 36.01%,#e2e2e2 37.30%,#e6e6e6 38.59%,#e9e9e9 39.87%,#ececec 41.16%,#efefef 42.44%,#f2f2f2 43.73%,#f5f5f5 45.02%,#f8f8f8 46.30%,#fbfbfb 47.59%,#fdfdfd 48.87%,#fefefe 50.16%,#fbfbfb 51.45%,#f8f8f8 52.73%,#f6f6f6 54.02%,#f3f3f3 55.31%,#f0f0f0 56.59%,#ededed 57.88%,#eaeaea 59.16%,#e7e7e7 60.45%,#e3e3e3 61.74%,#dfdfdf 63.02%,#dbdbdb 64.31%,#d5d5d5 65.59%,#cfcfcf 66.88%,#c9c9c9 68.17%,#c2c2c2 69.45%,#bcbcbc 70.74%,#b5b5b5 72.03%,#aeaeae 73.31%,#a7a7a7 74.60%,#a0a0a0 75.88%,#989898 77.17%,#909090 78.46%,#888888 79.74%,#808080 81.03%,#797979 82.32%,#727272 83.60%,#6c6c6c 84.89%,#666666 86.17%,#606060 87.46%,#5c5c5c 88.75%,#585858 90.03%,#555555 91.32%,#515151 92.60%,#4d4d4d 93.89%,#484848 95.18%,#424242 96.46%,#3d3d3d 97.75%,#3a3a3a 99.04%)"></div></div><div class="term" style=";mix-blend-mode:plus-lighter"><div class="v" style="background:linear-gradient(to bottom,#000000 0.00%,#000000 1.10%,#000000 2.20%,#000000 3.30%,#000000 4.40%,#000000 5.49%,#000000 6.59%,#000000 7.69%,#000000 8.79%,#000000 9.89%,#000000 10.99%,#000000 12.09%,#000000 13.19%,#000000 14.29%,#000000 15.38%,#000000 16.48%,#000000 17.58%,#000000 18.68%,#000000 19.78%,#000000 20.88%,#000000 21.98%,#000000 23.08%,#000000 24.18%,#000000 25.27%,#000000 26.37%,#000000 27.47%,#000000 28.57%,#000000 29.67%,#000000 30.77%,#000000 31.87%,#000000 32.97%,#000000 34.07%,#000000 35.16%,#000000 36.26%,#000000 37.36%,#000000 38.46%,#000000 39.56%,#000000 40.66%,#000000 41.76%,#000000 42.86%,#000000 43.96%,#000000 45.05%,#000000 46.15%,#010101 47.25%,#010101 48.35%,#030303 49.45%,#060606 50.55%,#0a0a0a 51.65%,#0f0f0f 52.75%,#151515 53.85%,#1c1c1c 54.95%,#252525 56.04%,#303030 57.14%,#3b3b3b 58.24%,#414141 59.34%,#464646 60.44%,#494949 61.54%,#4a4a4a 62.64%,#484848 63.74%,#454545 64.84%,#414141 65.93%,#3b3b3b 67.03%,#333333 68.13%,#2a2a2a 69.23%,#1f1f1f 70.33%,#121212 71.43%,#080808 72.53%,#010101 73.63%,#000000 74.73%,#000000 75.82%,#000000 76.92%,#000000 78.02%,#000000 79.12%,#000000 80.22%,#000000 81.32%,#000000 82.42%,#000000 83.52%,#000000 84.62%,#000000 85.71%,#000000 86.81%,#000000 87.91%,#000000 89.01%,#000000 90.11%,#000000 91.21%,#000000 92.31%,#000000 93.41%,#000000 94.51%,#000000 95.60%,#000000 96.70%,#000000 97.80%,#000000 98.90%,#000000 100.00%)"></div><div class="h" style="background:linear-gradient(to right,#1f1f1f 0.00%,#222222 1.29%,#252525 2.57%,#2a2a2a 3.86%,#2f2f2f 5.14%,#323232 6.43%,#363636 7.72%,#393939 9.00%,#3c3c3c 10.29%,#404040 11.58%,#454545 12.86%,#4b4b4b 14.15%,#515151 15.43%,#585858 16.72%,#606060 18.01%,#686868 19.29%,#707070 20.58%,#797979 21.86%,#828282 23.15%,#8b8b8b 24.44%,#949494 25.72%,#9c9c9c 27.01%,#a4a4a4 28.30%,#acacac 29.58%,#b5b5b5 30.87%,#bdbdbd 32.15%,#c5c5c5 33.44%,#cccccc 34.73%,#d2d2d2 36.01%,#d8d8d8 37.30%,#dcdcdc 38.59%,#e1e1e1 39.87%,#e5e5e5 41.16%,#e9e9e9 42.44%,#ededed 43.73%,#f1f1f1 45.02%,#f5f5f5 46.30%,#f9f9f9 47.59%,#fdfdfd 48.87%,#fefefe 50.16%,#fafafa 51.45%,#f6f6f6 52.73%,#f2f2f2 54.02%,#eeeeee 55.31%,#eaeaea 56.59%,#e6e6e6 57.88%,#e2e2e2 59.16%,#dedede 60.45%,#d9d9d9 61.74%,#d4d4d4 63.02%,#cecece 64.31%,#c7c7c7 65.59%,#bfbfbf 66.88%,#b7b7b7 68.17%,#aeaeae 69.45%,#a6a6a6 70.74%,#9e9e9e 72.03%,#969696 73.31%,#8d8d8d 74.60%,#848484 75.88%,#7c7c7c 77.17%,#737373 78.46%,#6a6a6a 79.74%,#626262 81.03%,#5a5a5a 82.32%,#535353 83.60%,#4c4c4c 84.89%,#464646 86.17%,#414141 87.46%,#3d3d3d 88.75%,#3a3a3a 90.03%,#363636 91.32%,#333333 92.60%,#303030 93.89%,#2b2b2b 95.18%,#272727 96.46%,#222222 97.75%,#202020 99.04%)"></div></div><div class="term" style=";mix-blend-mode:plus-lighter"><div class="v" style="background:linear-gradient(to bottom,#000000 0.00%,#000000 1.10%,#000000 2.20%,#000000 3.30%,#000000 4.40%,#000000 5.49%,#000000 6.59%,#000000 7.69%,#000000 8.79%,#000000 9.89%,#000000 10.99%,#000000 12.09%,#000000 13.19%,#000000 14.29%,#000000 15.38%,#000000 16.48%,#000000 17.58%,#000000 18.68%,#000000 19.78%,#000000 20.88%,#000000 21.98%,#000000 23.08%,#000000 24.18%,#000000 25.27%,#000000 26.37%,#000000 27.47%,#000000 28.57%,#000000 29.67%,#000000 30.77%,#000000 31.87%,#000000 32.97%,#000000 34.07%,#000000 35.16%,#000000 36.26%,#000000 37.36%,#000000 38.46%,#000000 39.56%,#000000 40.66%,#000000 41.76%,#000000 42.86%,#000000 43.96%,#000000 45.05%,#010101 46.15%,#020202 47.25%,#030303 48.35%,#050505 49.45%,#070707 50.55%,#080808 51.65%,#090909 52.75%,#080808 53.85%,#070707 54.95%,#050505 56.04%,#020202 57.14%,#000000 58.24%,#000000 59.34%,#000000 60.44%,#000000 61.54%,#000000 62.64%,#000000 63.74%,#000000 64.84%,#000000 65.93%,#000000 67.03%,#000000 68.13%,#000000 69.23%,#000000 70.33%,#000000 71.43%,#000000 72.53%,#000000 73.63%,#000000 74.73%,#000000 75.82%,#000000 76.92%,#000000 78.02%,#000000 79.12%,#000000 80.22%,#000000 81.32%,#000000 82.42%,#000000 83.52%,#000000 84.62%,#000000 85.71%,#000000 86.81%,#000000 87.91%,#000000 89.01%,#000000 90.11%,#000000 91.21%,#000000 92.31%,#000000 93.41%,#000000 94.51%,#000000 95.60%,#000000 96.70%,#000000 97.80%,#000000 98.90%,#000000 100.00%)"></div><div class="h" style="background:linear-gradient(to right,#111111 0.00%,#131313 1.29%,#161616 2.57%,#191919 3.86%,#1d1d1d 5.14%,#202020 6.43%,#222222 7.72%,#252525 9.00%,#282828 10.29%,#2b2b2b 11.58%,#2f2f2f 12.86%,#353535 14.15%,#3b3b3b 15.43%,#414141 16.72%,#484848 18.01%,#505050 19.29%,#595959 20.58%,#626262 21.86%,#6c6c6c 23.15%,#757575 24.44%,#7e7e7e 25.72%,#888888 27.01%,#919191 28.30%,#9a9a9a 29.58%,#a4a4a4 30.87%,#adadad 32.15%,#b7b7b7 33.44%,#bfbfbf 34.73%,#c7c7c7 36.01%,#cecece 37.30%,#d4d4d4 38.59%,#d9d9d9 39.87%,#dedede 41.16%,#e3e3e3 42.44%,#e8e8e8 43.73%,#ededed 45.02%,#f2f2f2 46.30%,#f7f7f7 47.59%,#fcfcfc 48.87%,#fdfdfd 50.16%,#f8f8f8 51.45%,#f3f3f3 52.73%,#eeeeee 54.02%,#e9e9e9 55.31%,#e4e4e4 56.59%,#dfdfdf 57.88%,#dadada 59.16%,#d5d5d5 60.45%,#cfcfcf 61.74%,#c9c9c9 63.02%,#c1c1c1 64.31%,#b9b9b9 65.59%,#b0b0b0 66.88%,#a6a6a6 68.17%,#9d9d9d 69.45%,#939393 70.74%,#8a8a8a 72.03%,#818181 73.31%,#777777 74.60%,#6e6e6e 75.88%,#656565 77.17%,#5b5b5b 78.46%,#525252 79.74%,#4a4a4a 81.03%,#434343 82.32%,#3c3c3c 83.60%,#363636 84.89%,#313131 86.17%,#2c2c2c 87.46%,#292929 88.75%,#262626 90.03%,#232323 91.32%,#202020 92.60%,#1e1e1e 93.89%,#1a1a1a 95.18%,#161616 96.46%,#131313 97.75%,#121212 99.04%)"></div></div></div>
<div class="frame" style="left:76px;top:345px"></div>
<div class="cb" style="left:396px;top:345px"></div>
<div class="t cbl" style="left:416px;top:609.7px">0</div>
<div class="t cbl" style="left:416px;top:555.1px">0.2</div>
<div class="t cbl" style="left:416px;top:500.5px">0.4</div>
<div class="t cbl" style="left:416px;top:445.9px">0.6</div>
<div class="t cbl" style="left:416px;top:389.3px">0.8</div>
<div class="t cbl" style="left:416px;top:334.7px">1</div>
<div class="t yl" style="left:1px;top:603.7px">400</div>
<div class="t yl" style="left:1px;top:559.4px">450</div>
<div class="t yl" style="left:1px;top:515.1px">500</div>
<div class="t yl" style="left:1px;top:470.8px">550</div>
<div class="t yl" style="left:1px;top:426.5px">600</div>
<div class="t yl" style="left:1px;top:382.2px">650</div>
<div class="t yl" style="left:1px;top:337.9px">700</div>
<div class="t xl" style="left:51.8px;top:619.7px"><span style="font-weight:normal;-webkit-text-stroke:0.35px #000">−80</span></div>
<div class="t xl" style="left:92.8px;top:619.7px">−60</div>
<div class="t xl" style="left:129.3px;top:619.7px">−40</div>
<div class="t xl" style="left:165.6px;top:619.7px">−20</div>
<div class="t xl" style="left:201.8px;top:619.7px">0</div>
<div class="t xl" style="left:232.1px;top:619.7px">20</div>
<div class="t xl" style="left:268.0px;top:619.7px">40</div>
<div class="t xl" style="left:303.8px;top:619.7px">60</div>
<div class="t xl" style="left:339.7px;top:619.7px">80</div>
<div class="tk" style="left:92.0px;top:616px"></div>
<div class="tk" style="left:126.8px;top:616px"></div>
<div class="tk" style="left:161.6px;top:616px"></div>
<div class="tk" style="left:196.4px;top:616px"></div>
<div class="tk" style="left:231.2px;top:616px"></div>
<div class="tk" style="left:266.0px;top:616px"></div>
<div class="tk" style="left:300.8px;top:616px"></div>
<div class="tk" style="left:335.6px;top:616px"></div>
<div class="tk" style="left:370.4px;top:616px"></div>
<div class="t xt" style="left:131px;top:641.5px;width:200px">Angle (deg.)</div>
<div class="t yt" style="left:-70.7px;top:478px">Wavelength (nm)</div>
<div class="t pl" style="left:15px;top:632.5px">(c)</div>
<svg width="879" height="669" style="position:absolute;left:0;top:0">
<g fill="none" stroke-width="2" stroke-linejoin="round" stroke-linecap="round">
<path d="M507.6,457.7 L508.6,457.8 L509.6,457.9 L510.6,458.2 L511.6,458.5 L512.6,458.8 L513.6,459.2 L514.6,459.6 L515.6,460.1 L516.6,460.6 L517.6,461.1 L518.6,461.7 L519.6,462.3 L520.6,462.9 L521.6,463.5 L522.6,464.2 L523.6,464.8 L524.6,465.5 L525.6,466.2 L526.6,466.9 L527.6,467.6 L528.6,468.3 L529.6,469.0 L530.6,469.7 L531.6,470.4 L532.6,471.0 L533.6,471.7 L534.6,472.3 L535.6,472.9 L536.6,473.6 L537.6,474.1 L538.6,474.7 L539.6,475.3 L540.6,475.9 L541.6,476.4 L542.6,476.9 L543.6,477.5 L544.6,478.0 L545.6,478.5 L546.6,479.0 L547.6,479.4 L548.6,479.9 L549.6,480.4 L550.6,480.8 L551.6,481.3 L552.6,481.7 L553.6,482.1 L554.6,482.5 L555.6,482.9 L556.6,483.3 L557.6,483.7 L558.6,484.1 L559.6,484.5 L560.6,484.9 L561.6,485.2 L562.6,485.6 L563.6,485.9 L564.6,486.3 L565.6,486.6 L566.6,487.0 L567.6,487.3 L568.6,487.6 L569.6,488.0 L570.6,488.3 L571.6,488.6 L572.6,488.9 L573.6,489.2 L574.6,489.5 L575.6,489.8 L576.6,490.1 L577.6,490.4 L578.6,490.7 L579.6,491.0 L580.6,491.3 L581.6,491.6 L582.6,491.9 L583.6,492.2 L584.6,492.5 L585.6,492.8 L586.6,493.0 L587.6,493.3 L588.6,493.6 L589.6,493.9 L590.6,494.2 L591.6,494.5 L592.6,494.7 L593.6,495.0 L594.6,495.3 L595.6,495.6 L596.6,495.8 L597.6,496.1 L598.6,496.4 L599.6,496.6 L600.6,496.9 L601.6,497.2 L602.6,497.4 L603.6,497.7 L604.6,498.0 L605.6,498.2 L606.6,498.5 L607.6,498.8 L608.6,499.0 L609.6,499.3 L610.6,499.5 L611.6,499.8 L612.6,500.0 L613.6,500.3 L614.6,500.5 L615.6,500.8 L616.6,501.1 L617.6,501.3 L618.6,501.5 L619.6,501.8 L620.6,502.0 L621.6,502.3 L622.6,502.5 L623.6,502.8 L624.6,503.0 L625.6,503.3 L626.6,503.5 L627.6,503.7 L628.6,504.0 L629.6,504.2 L630.6,504.5 L631.6,504.7 L632.6,504.9 L633.6,505.2 L634.6,505.4 L635.6,505.6 L636.6,505.9 L637.6,506.1 L638.6,506.3 L639.6,506.5 L640.6,506.8 L641.6,507.0 L642.6,507.2 L643.6,507.5 L644.6,507.7 L645.6,507.9 L646.6,508.1 L647.6,508.3 L648.6,508.6 L649.6,508.8 L650.6,509.0 L651.6,509.2 L652.6,509.4 L653.6,509.7 L654.6,509.9 L655.6,510.1 L656.6,510.3 L657.6,510.5 L658.6,510.7 L659.6,511.0 L660.6,511.2 L661.6,511.4 L662.6,511.6 L663.6,511.8 L664.6,512.0 L665.6,512.2 L666.6,512.4 L667.6,512.7 L668.6,512.9 L669.6,513.1 L670.6,513.3 L671.6,513.5 L672.6,513.7 L673.6,513.9 L674.6,514.1 L675.6,514.3 L676.6,514.5 L677.6,514.7 L678.6,514.9 L679.6,515.1 L680.6,515.3 L681.6,515.5 L682.6,515.7 L683.6,515.9 L684.6,516.1 L685.6,516.3 L686.6,516.5 L687.6,516.7 L688.6,516.9 L689.6,517.1 L690.6,517.3 L691.6,517.5 L692.6,517.7 L693.6,517.9 L694.6,518.1 L695.6,518.3 L696.6,518.5 L697.6,518.7 L698.6,518.9 L699.6,519.1 L700.6,519.3 L701.6,519.5 L702.6,519.7 L703.6,519.9 L704.6,520.1 L705.6,520.3 L706.6,520.5 L707.6,520.6 L708.6,520.8 L709.6,521.0 L710.6,521.2 L711.6,521.4 L712.6,521.6 L713.6,521.8 L714.6,522.0 L715.6,522.2 L716.6,522.4 L717.6,522.6 L718.6,522.8 L719.6,523.0 L720.6,523.1 L721.6,523.3 L722.6,523.5 L723.6,523.7 L724.6,523.9 L725.6,524.1 L726.6,524.3 L727.6,524.5 L728.6,524.7 L729.6,524.9 L730.6,525.1 L731.6,525.3 L732.6,525.4 L733.6,525.6 L734.6,525.8 L735.6,526.0 L736.6,526.2 L737.6,526.4 L738.6,526.6 L739.6,526.8 L740.6,527.0 L741.6,527.2 L742.6,527.4 L743.6,527.6 L744.6,527.7 L745.6,527.9 L746.6,528.1 L747.6,528.3 L748.6,528.5 L749.6,528.7 L750.6,528.9 L751.6,529.1 L752.6,529.3 L753.6,529.5 L754.6,529.7 L755.6,529.9 L756.6,530.1 L757.6,530.3 L758.6,530.5 L759.6,530.6 L760.6,530.8 L761.6,531.0 L762.6,531.2 L763.6,531.4 L764.6,531.6 L765.6,531.8 L766.6,532.0 L767.6,532.2 L768.6,532.4 L769.6,532.6 L770.6,532.8 L771.6,533.0 L772.6,533.2 L773.6,533.4 L774.6,533.6 L775.6,533.8 L776.6,534.0 L777.6,534.2 L778.6,534.4 L779.6,534.6 L780.6,534.8 L781.6,535.0 L782.6,535.2 L783.6,535.4 L784.6,535.6 L785.6,535.8 L786.6,536.1 L787.6,536.3 L788.6,536.5 L789.6,536.7 L790.6,536.9 L791.6,537.1 L792.6,537.3 L793.6,537.5 L794.6,537.7 L795.6,537.9 L796.6,538.1 L797.6,538.4 L798.6,538.6 L799.6,538.8 L800.6,539.0 L801.6,539.2 L802.6,539.4 L803.6,539.6 L804.6,539.9 L805.6,540.1 L806.6,540.3 L807.6,540.5 L808.6,540.7 L809.6,541.0 L810.6,541.2 L811.6,541.4 L812.6,541.6 L813.6,541.8 L814.6,542.1 L815.6,542.3 L816.6,542.5 L817.6,542.7 L818.6,543.0 L819.6,543.2 L820.6,543.4 L821.6,543.7 L822.6,543.9 L823.6,544.1 L824.6,544.4 L825.6,544.6 L826.6,544.8 L827.6,545.1 L828.6,545.3 L829.6,545.5 L830.6,545.8 L831.6,546.0 L832.6,546.2 L833.6,546.5 L834.6,546.7 L835.6,547.0 L836.6,547.2 L837.6,547.5 L838.6,547.7 L839.6,548.0 L840.6,548.2 L841.6,548.5 L842.6,548.7 L843.6,549.0 L844.6,549.2 L845.6,549.5 L846.6,549.7 L846.9,549.8" stroke="#2f8c2f"/>
<path d="M508.4,541.7 L509.4,540.9 L510.4,540.0 L511.4,539.0 L512.4,538.0 L513.4,536.8 L514.4,535.6 L515.4,534.4 L516.4,533.0 L517.4,531.6 L518.4,530.1 L519.4,528.5 L520.4,526.8 L521.4,525.1 L522.4,523.4 L523.4,521.5 L524.4,519.6 L525.4,517.6 L526.4,515.6 L527.4,513.5 L528.4,511.4 L529.4,509.2 L530.4,506.9 L531.4,504.6 L532.4,502.2 L533.4,499.8 L534.4,497.3 L535.4,494.8 L536.4,492.3 L537.4,489.7 L538.4,487.0 L539.4,484.3 L540.4,481.6 L541.4,478.8 L542.4,476.0 L543.4,473.2 L544.4,470.3 L545.4,467.4 L546.4,464.5 L547.4,461.5 L548.4,458.6 L549.4,455.6 L550.4,452.6 L551.4,449.6 L552.4,446.6 L553.4,443.6 L554.4,440.6 L555.4,437.6 L556.4,434.7 L557.4,431.7 L558.4,428.8 L559.4,425.9 L560.4,423.1 L561.4,420.2 L562.4,417.5 L563.4,414.7 L564.4,412.1 L565.4,409.5 L566.4,406.9 L567.4,404.4 L568.4,402.0 L569.4,399.7 L570.4,397.4 L571.4,395.2 L572.4,393.2 L573.4,391.2 L574.4,389.3 L575.4,387.5 L576.4,385.8 L577.4,384.3 L578.4,382.8 L579.4,381.5 L580.4,380.3 L581.4,379.2 L582.4,378.3 L583.4,377.5 L584.4,376.8 L585.4,376.2 L586.4,375.8 L587.4,375.4 L588.4,375.2 L589.4,375.0 L590.4,375.0 L591.4,375.0 L592.4,375.1 L593.4,375.3 L594.4,375.6 L595.4,375.9 L596.4,376.3 L597.4,376.8 L598.4,377.3 L599.4,377.9 L600.4,378.5 L601.4,379.2 L602.4,379.9 L603.4,380.7 L604.4,381.5 L605.4,382.3 L606.4,383.1 L607.4,384.0 L608.4,384.9 L609.4,385.7 L610.4,386.6 L611.4,387.5 L612.4,388.4 L613.4,389.3 L614.4,390.1 L615.4,391.0 L616.4,391.8 L617.4,392.7 L618.4,393.5 L619.4,394.3 L620.4,395.1 L621.4,395.9 L622.4,396.7 L623.4,397.5 L624.4,398.3 L625.4,399.1 L626.4,399.8 L627.4,400.6 L628.4,401.3 L629.4,402.0 L630.4,402.8 L631.4,403.5 L632.4,404.2 L633.4,404.9 L634.4,405.6 L635.4,406.3 L636.4,406.9 L637.4,407.6 L638.4,408.3 L639.4,408.9 L640.4,409.6 L641.4,410.2 L642.4,410.8 L643.4,411.4 L644.4,412.1 L645.4,412.7 L646.4,413.3 L647.4,413.9 L648.4,414.4 L649.4,415.0 L650.4,415.6 L651.4,416.1 L652.4,416.7 L653.4,417.3 L654.4,417.8 L655.4,418.3 L656.4,418.9 L657.4,419.4 L658.4,419.9 L659.4,420.4 L660.4,420.9 L661.4,421.4 L662.4,421.9 L663.4,422.4 L664.4,422.9 L665.4,423.3 L666.4,423.8 L667.4,424.2 L668.4,424.7 L669.4,425.1 L670.4,425.6 L671.4,426.0 L672.4,426.4 L673.4,426.9 L674.4,427.3 L675.4,427.7 L676.4,428.1 L677.4,428.5 L678.4,428.9 L679.4,429.3 L680.4,429.7 L681.4,430.1 L682.4,430.5 L683.4,430.8 L684.4,431.2 L685.4,431.6 L686.4,432.0 L687.4,432.3 L688.4,432.7 L689.4,433.0 L690.4,433.4 L691.4,433.7 L692.4,434.1 L693.4,434.4 L694.4,434.7 L695.4,435.1 L696.4,435.4 L697.4,435.7 L698.4,436.1 L699.4,436.4 L700.4,436.7 L701.4,437.0 L702.4,437.3 L703.4,437.6 L704.4,438.0 L705.4,438.3 L706.4,438.6 L707.4,438.9 L708.4,439.2 L709.4,439.5 L710.4,439.8 L711.4,440.1 L712.4,440.4 L713.4,440.7 L714.4,441.0 L715.4,441.3 L716.4,441.6 L717.4,441.9 L718.4,442.2 L719.4,442.4 L720.4,442.7 L721.4,443.0 L722.4,443.3 L723.4,443.6 L724.4,443.9 L725.4,444.2 L726.4,444.5 L727.4,444.8 L728.4,445.1 L729.4,445.4 L730.4,445.7 L731.4,446.0 L732.4,446.3 L733.4,446.5 L734.4,446.8 L735.4,447.1 L736.4,447.4 L737.4,447.7 L738.4,448.0 L739.4,448.3 L740.4,448.6 L741.4,448.9 L742.4,449.2 L743.4,449.5 L744.4,449.8 L745.4,450.1 L746.4,450.4 L747.4,450.7 L748.4,451.0 L749.4,451.3 L750.4,451.6 L751.4,451.9 L752.4,452.2 L753.4,452.5 L754.4,452.8 L755.4,453.1 L756.4,453.4 L757.4,453.7 L758.4,453.9 L759.4,454.2 L760.4,454.5 L761.4,454.8 L762.4,455.1 L763.4,455.4 L764.4,455.7 L765.4,456.0 L766.4,456.3 L767.4,456.6 L768.4,456.9 L769.4,457.2 L770.4,457.5 L771.4,457.8 L772.4,458.1 L773.4,458.4 L774.4,458.7 L775.4,459.0 L776.4,459.3 L777.4,459.6 L778.4,459.8 L779.4,460.1 L780.4,460.4 L781.4,460.7 L782.4,461.0 L783.4,461.3 L784.4,461.6 L785.4,461.9 L786.4,462.2 L787.4,462.5 L788.4,462.8 L789.4,463.0 L790.4,463.3 L791.4,463.6 L792.4,463.9 L793.4,464.2 L794.4,464.5 L795.4,464.8 L796.4,465.1 L797.4,465.3 L798.4,465.6 L799.4,465.9 L800.4,466.2 L801.4,466.5 L802.4,466.8 L803.4,467.0 L804.4,467.3 L805.4,467.6 L806.4,467.9 L807.4,468.2 L808.4,468.5 L809.4,468.7 L810.4,469.0 L811.4,469.3 L812.4,469.6 L813.4,469.9 L814.4,470.2 L815.4,470.5 L816.4,470.8 L817.4,471.1 L818.4,471.4 L819.4,471.7 L820.4,472.1 L821.4,472.4 L822.4,472.7 L823.4,473.1 L824.4,473.4 L825.4,473.8 L826.4,474.1 L827.4,474.5 L828.4,474.9 L829.4,475.3 L830.4,475.7 L831.4,476.1 L832.4,476.5 L833.4,476.9 L834.4,477.3 L835.4,477.8 L836.4,478.2 L837.4,478.7 L838.4,479.2 L839.4,479.7 L840.4,480.2 L841.4,480.7 L842.4,481.2 L843.4,481.8 L844.4,482.3 L845.4,482.9 L846.4,483.5 L846.9,483.8" stroke="#5a5a5a"/>
<path d="M508.4,570.2 L509.4,570.2 L510.4,570.2 L511.4,570.2 L512.4,570.2 L513.4,570.2 L514.4,570.1 L515.4,570.0 L516.4,569.9 L517.4,569.8 L518.4,569.7 L519.4,569.5 L520.4,569.3 L521.4,569.1 L522.4,568.9 L523.4,568.7 L524.4,568.4 L525.4,568.2 L526.4,567.9 L527.4,567.6 L528.4,567.2 L529.4,566.9 L530.4,566.6 L531.4,566.2 L532.4,565.8 L533.4,565.4 L534.4,565.0 L535.4,564.5 L536.4,564.1 L537.4,563.6 L538.4,563.1 L539.4,562.7 L540.4,562.1 L541.4,561.6 L542.4,561.1 L543.4,560.5 L544.4,560.0 L545.4,559.4 L546.4,558.8 L547.4,558.2 L548.4,557.6 L549.4,557.0 L550.4,556.3 L551.4,555.7 L552.4,555.0 L553.4,554.3 L554.4,553.6 L555.4,552.9 L556.4,552.2 L557.4,551.5 L558.4,550.8 L559.4,550.0 L560.4,549.3 L561.4,548.5 L562.4,547.8 L563.4,547.0 L564.4,546.2 L565.4,545.4 L566.4,544.6 L567.4,543.8 L568.4,543.0 L569.4,542.1 L570.4,541.3 L571.4,540.4 L572.4,539.6 L573.4,538.7 L574.4,537.8 L575.4,536.9 L576.4,536.0 L577.4,535.1 L578.4,534.2 L579.4,533.2 L580.4,532.3 L581.4,531.3 L582.4,530.3 L583.4,529.3 L584.4,528.2 L585.4,527.2 L586.4,526.1 L587.4,525.0 L588.4,523.9 L589.4,522.7 L590.4,521.6 L591.4,520.4 L592.4,519.2 L593.4,518.0 L594.4,516.7 L595.4,515.4 L596.4,514.1 L597.4,512.7 L598.4,511.4 L599.4,510.0 L600.4,508.6 L601.4,507.1 L602.4,505.6 L603.4,504.1 L604.4,502.5 L605.4,500.9 L606.4,499.3 L607.4,497.6 L608.4,496.0 L609.4,494.2 L610.4,492.5 L611.4,490.6 L612.4,488.8 L613.4,486.9 L614.4,485.0 L615.4,483.0 L616.4,481.0 L617.4,479.0 L618.4,476.9 L619.4,474.8 L620.4,472.6 L621.4,470.4 L622.4,468.2 L623.4,466.0 L624.4,463.7 L625.4,461.4 L626.4,459.0 L627.4,456.6 L628.4,454.2 L629.4,451.8 L630.4,449.4 L631.4,446.9 L632.4,444.4 L633.4,441.9 L634.4,439.3 L635.4,436.8 L636.4,434.2 L637.4,431.6 L638.4,429.0 L639.4,426.4 L640.4,423.8 L641.4,421.1 L642.4,418.5 L643.4,415.9 L644.4,413.2 L645.4,410.6 L646.4,407.9 L647.4,405.3 L648.4,402.7 L649.4,400.2 L650.4,397.6 L651.4,395.1 L652.4,392.7 L653.4,390.3 L654.4,388.0 L655.4,385.8 L656.4,383.6 L657.4,381.5 L658.4,379.5 L659.4,377.5 L660.4,375.7 L661.4,374.0 L662.4,372.4 L663.4,370.8 L664.4,369.5 L665.4,368.2 L666.4,367.0 L667.4,366.0 L668.4,365.1 L669.4,364.2 L670.4,363.5 L671.4,362.9 L672.4,362.3 L673.4,361.9 L674.4,361.6 L675.4,361.3 L676.4,361.1 L677.4,361.0 L678.4,361.0 L679.4,361.0 L680.4,361.1 L681.4,361.3 L682.4,361.5 L683.4,361.8 L684.4,362.1 L685.4,362.5 L686.4,363.0 L687.4,363.5 L688.4,364.0 L689.4,364.6 L690.4,365.2 L691.4,365.8 L692.4,366.5 L693.4,367.2 L694.4,367.9 L695.4,368.7 L696.4,369.4 L697.4,370.2 L698.4,371.1 L699.4,371.9 L700.4,372.7 L701.4,373.6 L702.4,374.4 L703.4,375.3 L704.4,376.2 L705.4,377.1 L706.4,378.0 L707.4,378.9 L708.4,379.7 L709.4,380.6 L710.4,381.5 L711.4,382.3 L712.4,383.2 L713.4,384.0 L714.4,384.9 L715.4,385.7 L716.4,386.5 L717.4,387.3 L718.4,388.1 L719.4,389.0 L720.4,389.7 L721.4,390.5 L722.4,391.3 L723.4,392.1 L724.4,392.9 L725.4,393.6 L726.4,394.4 L727.4,395.2 L728.4,395.9 L729.4,396.7 L730.4,397.4 L731.4,398.2 L732.4,398.9 L733.4,399.6 L734.4,400.4 L735.4,401.1 L736.4,401.8 L737.4,402.6 L738.4,403.3 L739.4,404.0 L740.4,404.7 L741.4,405.4 L742.4,406.1 L743.4,406.9 L744.4,407.6 L745.4,408.3 L746.4,409.0 L747.4,409.7 L748.4,410.4 L749.4,411.1 L750.4,411.7 L751.4,412.4 L752.4,413.1 L753.4,413.8 L754.4,414.5 L755.4,415.2 L756.4,415.8 L757.4,416.5 L758.4,417.2 L759.4,417.8 L760.4,418.5 L761.4,419.2 L762.4,419.8 L763.4,420.5 L764.4,421.2 L765.4,421.8 L766.4,422.5 L767.4,423.1 L768.4,423.8 L769.4,424.4 L770.4,425.0 L771.4,425.7 L772.4,426.3 L773.4,426.9 L774.4,427.6 L775.4,428.2 L776.4,428.8 L777.4,429.5 L778.4,430.1 L779.4,430.7 L780.4,431.3 L781.4,431.9 L782.4,432.5 L783.4,433.2 L784.4,433.8 L785.4,434.4 L786.4,435.0 L787.4,435.6 L788.4,436.2 L789.4,436.8 L790.4,437.4 L791.4,438.0 L792.4,438.5 L793.4,439.1 L794.4,439.7 L795.4,440.3 L796.4,440.9 L797.4,441.5 L798.4,442.0 L799.4,442.6 L800.4,443.2 L801.4,443.8 L802.4,444.3 L803.4,444.9 L804.4,445.5 L805.4,446.0 L806.4,446.6 L807.4,447.1 L808.4,447.7 L809.4,448.2 L810.4,448.8 L811.4,449.3 L812.4,449.9 L813.4,450.4 L814.4,451.0 L815.4,451.5 L816.4,452.1 L817.4,452.6 L818.4,453.1 L819.4,453.7 L820.4,454.2 L821.4,454.7 L822.4,455.3 L823.4,455.8 L824.4,456.3 L825.4,456.8 L826.4,457.3 L827.4,457.9 L828.4,458.4 L829.4,458.9 L830.4,459.4 L831.4,459.9 L832.4,460.4 L833.4,460.9 L834.4,461.4 L835.4,461.9 L836.4,462.4 L837.4,462.9 L838.4,463.4 L839.4,463.9 L840.4,464.4 L841.4,464.9 L842.4,465.4 L843.4,465.9 L844.4,466.4 L845.4,466.9 L846.4,467.3 L846.9,467.6" stroke="#f39a35"/>
<path d="M507.8,536.4 L508.8,535.1 L509.8,533.9 L510.8,532.7 L511.8,531.6 L512.8,530.4 L513.8,529.3 L514.8,528.1 L515.8,527.0 L516.8,525.8 L517.8,524.7 L518.8,523.4 L519.8,522.2 L520.8,520.9 L521.8,519.5 L522.8,518.1 L523.8,516.6 L524.8,515.1 L525.8,513.4 L526.8,511.7 L527.8,509.8 L528.8,507.8 L529.8,505.8 L530.8,503.5 L531.8,501.2 L532.8,498.8 L533.8,496.3 L534.8,493.7 L535.8,491.0 L536.8,488.3 L537.8,485.6 L538.8,482.8 L539.8,480.0 L540.8,477.2 L541.8,474.4 L542.8,471.5 L543.8,468.6 L544.8,465.7 L545.8,462.8 L546.8,459.9 L547.8,457.0 L548.8,454.1 L549.8,451.1 L550.8,448.2 L551.8,445.2 L552.8,442.3 L553.8,439.3 L554.8,436.3 L555.8,433.4 L556.8,430.4 L557.8,427.4 L558.8,424.5 L559.8,421.5 L560.8,418.6 L561.8,415.7 L562.8,412.9 L563.8,410.1 L564.8,407.3 L565.8,404.6 L566.8,402.0 L567.8,399.5 L568.8,397.1 L569.8,394.7 L570.8,392.5 L571.8,390.3 L572.8,388.3 L573.8,386.4 L574.8,384.6 L575.8,382.9 L576.8,381.4 L577.8,379.9 L578.8,378.7 L579.8,377.5 L580.8,376.5 L581.8,375.7 L582.8,374.9 L583.8,374.3 L584.8,373.8 L585.8,373.5 L586.8,373.2 L587.8,373.0 L588.8,373.0 L589.8,373.0 L590.8,373.1 L591.8,373.3 L592.8,373.6 L593.8,373.9 L594.8,374.3 L595.8,374.8 L596.8,375.3 L597.8,375.9 L598.8,376.5 L599.8,377.2 L600.8,377.9 L601.8,378.6 L602.8,379.4 L603.8,380.2 L604.8,381.0 L605.8,381.8 L606.8,382.7 L607.8,383.6 L608.8,384.5 L609.8,385.4 L610.8,386.3 L611.8,387.3 L612.8,388.2 L613.8,389.2 L614.8,390.1 L615.8,391.1 L616.8,392.1 L617.8,393.0 L618.8,394.0 L619.8,394.9 L620.8,395.9 L621.8,396.8 L622.8,397.7 L623.8,398.6 L624.8,399.5 L625.8,400.3 L626.8,401.1 L627.8,402.0 L628.8,402.8 L629.8,403.5 L630.8,404.3 L631.8,405.0 L632.8,405.8 L633.8,406.5 L634.8,407.2 L635.8,407.8 L636.8,408.5 L637.8,409.2 L638.8,409.8 L639.8,410.5 L640.8,411.1 L641.8,411.8 L642.8,412.4 L643.8,413.0 L644.8,413.6 L645.8,414.3 L646.8,414.9 L647.8,415.5 L648.8,416.1 L649.8,416.8 L650.8,417.4 L651.8,418.0 L652.8,418.7 L653.8,419.3 L654.8,419.9 L655.8,420.6 L656.8,421.2 L657.8,421.9 L658.8,422.5 L659.8,423.2 L660.8,423.8 L661.8,424.5 L662.8,425.1 L663.8,425.8 L664.8,426.4 L665.8,427.0 L666.8,427.7 L667.8,428.3 L668.8,428.9 L669.8,429.5 L670.8,430.1 L671.8,430.7 L672.8,431.3 L673.8,431.9 L674.8,432.5 L675.8,433.0 L676.8,433.6 L677.8,434.1 L678.8,434.7 L679.8,435.2 L680.8,435.7 L681.8,436.2 L682.8,436.7 L683.8,437.2 L684.8,437.7 L685.8,438.1 L686.8,438.6 L687.8,439.1 L688.8,439.5 L689.8,440.0 L690.8,440.4 L691.8,440.8 L692.8,441.3 L693.8,441.7 L694.8,442.1 L695.8,442.5 L696.8,442.9 L697.8,443.3 L698.8,443.7 L699.8,444.1 L700.8,444.5 L701.8,444.9 L702.8,445.3 L703.8,445.7 L704.8,446.1 L705.8,446.5 L706.8,446.9 L707.8,447.3 L708.8,447.7 L709.8,448.0 L710.8,448.4 L711.8,448.8 L712.8,449.2 L713.8,449.5 L714.8,449.9 L715.8,450.3 L716.8,450.6 L717.8,451.0 L718.8,451.4 L719.8,451.7 L720.8,452.1 L721.8,452.4 L722.8,452.8 L723.8,453.2 L724.8,453.5 L725.8,453.9 L726.8,454.2 L727.8,454.6 L728.8,454.9 L729.8,455.3 L730.8,455.6 L731.8,455.9 L732.8,456.3 L733.8,456.6 L734.8,457.0 L735.8,457.3 L736.8,457.6 L737.8,458.0 L738.8,458.3 L739.8,458.7 L740.8,459.0 L741.8,459.3 L742.8,459.7 L743.8,460.0 L744.8,460.3 L745.8,460.7 L746.8,461.0 L747.8,461.3 L748.8,461.7 L749.8,462.0 L750.8,462.3 L751.8,462.7 L752.8,463.0 L753.8,463.3 L754.8,463.6 L755.8,464.0 L756.8,464.3 L757.8,464.6 L758.8,465.0 L759.8,465.3 L760.8,465.6 L761.8,465.9 L762.8,466.3 L763.8,466.6 L764.8,466.9 L765.8,467.3 L766.8,467.6 L767.8,467.9 L768.8,468.2 L769.8,468.6 L770.8,468.9 L771.8,469.2 L772.8,469.6 L773.8,469.9 L774.8,470.2 L775.8,470.6 L776.8,470.9 L777.8,471.2 L778.8,471.6 L779.8,471.9 L780.8,472.2 L781.8,472.6 L782.8,472.9 L783.8,473.3 L784.8,473.6 L785.8,473.9 L786.8,474.3 L787.8,474.6 L788.8,475.0 L789.8,475.3 L790.8,475.7 L791.8,476.0 L792.8,476.4 L793.8,476.7 L794.8,477.1 L795.8,477.4 L796.8,477.8 L797.8,478.1 L798.8,478.5 L799.8,478.9 L800.8,479.2 L801.8,479.6 L802.8,480.0 L803.8,480.3 L804.8,480.7 L805.8,481.1 L806.8,481.4 L807.8,481.8 L808.8,482.2 L809.8,482.6 L810.8,482.9 L811.8,483.3 L812.8,483.7 L813.8,484.1 L814.8,484.5 L815.8,484.9 L816.8,485.3 L817.8,485.7 L818.8,486.1 L819.8,486.5 L820.8,486.9 L821.8,487.3 L822.8,487.7 L823.8,488.1 L824.8,488.5 L825.8,488.9 L826.8,489.4 L827.8,489.8 L828.8,490.2 L829.8,490.6 L830.8,491.1 L831.8,491.5 L832.8,491.9 L833.8,492.4 L834.8,492.8 L835.8,493.2 L836.8,493.7 L837.8,494.1 L838.8,494.6 L839.8,495.1 L840.8,495.5 L841.8,496.0 L842.8,496.5 L843.8,496.9 L844.8,497.4 L845.8,497.9 L846.8,498.4 L846.9,498.4" stroke="#e0546c"/>
<path d="M508.4,545.8 L509.4,544.5 L510.4,543.2 L511.4,542.0 L512.4,540.7 L513.4,539.4 L514.4,538.1 L515.4,536.8 L516.4,535.5 L517.4,534.2 L518.4,532.8 L519.4,531.4 L520.4,530.0 L521.4,528.6 L522.4,527.2 L523.4,525.7 L524.4,524.1 L525.4,522.6 L526.4,521.0 L527.4,519.3 L528.4,517.6 L529.4,515.9 L530.4,514.1 L531.4,512.3 L532.4,510.4 L533.4,508.4 L534.4,506.4 L535.4,504.3 L536.4,502.1 L537.4,499.9 L538.4,497.6 L539.4,495.2 L540.4,492.8 L541.4,490.2 L542.4,487.6 L543.4,484.9 L544.4,482.1 L545.4,479.2 L546.4,476.3 L547.4,473.3 L548.4,470.3 L549.4,467.3 L550.4,464.3 L551.4,461.2 L552.4,458.2 L553.4,455.2 L554.4,452.2 L555.4,449.2 L556.4,446.3 L557.4,443.5 L558.4,440.8 L559.4,438.2 L560.4,435.6 L561.4,433.2 L562.4,430.9 L563.4,428.6 L564.4,426.5 L565.4,424.5 L566.4,422.6 L567.4,420.9 L568.4,419.2 L569.4,417.7 L570.4,416.3 L571.4,415.0 L572.4,413.9 L573.4,412.9 L574.4,412.1 L575.4,411.3 L576.4,410.7 L577.4,410.3 L578.4,410.0 L579.4,409.8 L580.4,409.7 L581.4,409.7 L582.4,409.8 L583.4,410.1 L584.4,410.4 L585.4,410.8 L586.4,411.3 L587.4,411.9 L588.4,412.5 L589.4,413.3 L590.4,414.0 L591.4,414.9 L592.4,415.7 L593.4,416.7 L594.4,417.7 L595.4,418.7 L596.4,419.8 L597.4,420.9 L598.4,422.0 L599.4,423.2 L600.4,424.4 L601.4,425.6 L602.4,426.8 L603.4,428.1 L604.4,429.4 L605.4,430.6 L606.4,431.9 L607.4,433.2 L608.4,434.5 L609.4,435.8 L610.4,437.0 L611.4,438.3 L612.4,439.5 L613.4,440.7 L614.4,441.9 L615.4,443.1 L616.4,444.2 L617.4,445.4 L618.4,446.5 L619.4,447.6 L620.4,448.6 L621.4,449.7 L622.4,450.7 L623.4,451.8 L624.4,452.8 L625.4,453.7 L626.4,454.7 L627.4,455.7 L628.4,456.6 L629.4,457.5 L630.4,458.4 L631.4,459.3 L632.4,460.2 L633.4,461.0 L634.4,461.9 L635.4,462.7 L636.4,463.5 L637.4,464.3 L638.4,465.1 L639.4,465.9 L640.4,466.6 L641.4,467.4 L642.4,468.1 L643.4,468.9 L644.4,469.6 L645.4,470.3 L646.4,471.0 L647.4,471.7 L648.4,472.4 L649.4,473.0 L650.4,473.7 L651.4,474.3 L652.4,475.0 L653.4,475.6 L654.4,476.2 L655.4,476.9 L656.4,477.5 L657.4,478.1 L658.4,478.7 L659.4,479.3 L660.4,479.9 L661.4,480.4 L662.4,481.0 L663.4,481.6 L664.4,482.2 L665.4,482.7 L666.4,483.3 L667.4,483.8 L668.4,484.4 L669.4,484.9 L670.4,485.5 L671.4,486.0 L672.4,486.6 L673.4,487.1 L674.4,487.6 L675.4,488.1 L676.4,488.7 L677.4,489.2 L678.4,489.7 L679.4,490.2 L680.4,490.7 L681.4,491.2 L682.4,491.7 L683.4,492.2 L684.4,492.7 L685.4,493.2 L686.4,493.7 L687.4,494.2 L688.4,494.6 L689.4,495.1 L690.4,495.6 L691.4,496.0 L692.4,496.5 L693.4,497.0 L694.4,497.4 L695.4,497.9 L696.4,498.3 L697.4,498.8 L698.4,499.2 L699.4,499.7 L700.4,500.1 L701.4,500.5 L702.4,501.0 L703.4,501.4 L704.4,501.8 L705.4,502.2 L706.4,502.7 L707.4,503.1 L708.4,503.5 L709.4,503.9 L710.4,504.3 L711.4,504.7 L712.4,505.1 L713.4,505.5 L714.4,505.9 L715.4,506.3 L716.4,506.7 L717.4,507.1 L718.4,507.5 L719.4,507.8 L720.4,508.2 L721.4,508.6 L722.4,509.0 L723.4,509.4 L724.4,509.7 L725.4,510.1 L726.4,510.5 L727.4,510.8 L728.4,511.2 L729.4,511.5 L730.4,511.9 L731.4,512.3 L732.4,512.6 L733.4,513.0 L734.4,513.3 L735.4,513.7 L736.4,514.0 L737.4,514.3 L738.4,514.7 L739.4,515.0 L740.4,515.3 L741.4,515.7 L742.4,516.0 L743.4,516.3 L744.4,516.7 L745.4,517.0 L746.4,517.3 L747.4,517.6 L748.4,518.0 L749.4,518.3 L750.4,518.6 L751.4,518.9 L752.4,519.2 L753.4,519.5 L754.4,519.9 L755.4,520.2 L756.4,520.5 L757.4,520.8 L758.4,521.1 L759.4,521.4 L760.4,521.7 L761.4,522.0 L762.4,522.3 L763.4,522.6 L764.4,522.9 L765.4,523.2 L766.4,523.5 L767.4,523.8 L768.4,524.1 L769.4,524.4 L770.4,524.7 L771.4,524.9 L772.4,525.2 L773.4,525.5 L774.4,525.8 L775.4,526.1 L776.4,526.4 L777.4,526.7 L778.4,526.9 L779.4,527.2 L780.4,527.5 L781.4,527.8 L782.4,528.1 L783.4,528.3 L784.4,528.6 L785.4,528.9 L786.4,529.2 L787.4,529.5 L788.4,529.7 L789.4,530.0 L790.4,530.3 L791.4,530.6 L792.4,530.8 L793.4,531.1 L794.4,531.4 L795.4,531.7 L796.4,531.9 L797.4,532.2 L798.4,532.5 L799.4,532.7 L800.4,533.0 L801.4,533.3 L802.4,533.6 L803.4,533.8 L804.4,534.1 L805.4,534.4 L806.4,534.6 L807.4,534.9 L808.4,535.2 L809.4,535.5 L810.4,535.7 L811.4,536.0 L812.4,536.3 L813.4,536.5 L814.4,536.8 L815.4,537.1 L816.4,537.4 L817.4,537.6 L818.4,537.9 L819.4,538.2 L820.4,538.5 L821.4,538.7 L822.4,539.0 L823.4,539.3 L824.4,539.6 L825.4,539.8 L826.4,540.1 L827.4,540.4 L828.4,540.7 L829.4,541.0 L830.4,541.2 L831.4,541.5 L832.4,541.8 L833.4,542.1 L834.4,542.4 L835.4,542.6 L836.4,542.9 L837.4,543.2 L838.4,543.5 L839.4,543.8 L840.4,544.1 L841.4,544.4 L842.4,544.7 L843.4,544.9 L844.4,545.2 L845.4,545.5 L846.4,545.8 L846.9,546.0" stroke="#4a86dc"/>
<path d="M508.4,587.3 L509.4,587.1 L510.4,586.8 L511.4,586.5 L512.4,586.1 L513.4,585.8 L514.4,585.5 L515.4,585.1 L516.4,584.7 L517.4,584.4 L518.4,584.0 L519.4,583.6 L520.4,583.1 L521.4,582.7 L522.4,582.3 L523.4,581.8 L524.4,581.4 L525.4,580.9 L526.4,580.4 L527.4,580.0 L528.4,579.5 L529.4,579.0 L530.4,578.5 L531.4,578.0 L532.4,577.4 L533.4,576.9 L534.4,576.4 L535.4,575.9 L536.4,575.3 L537.4,574.8 L538.4,574.2 L539.4,573.7 L540.4,573.2 L541.4,572.6 L542.4,572.0 L543.4,571.5 L544.4,570.9 L545.4,570.4 L546.4,569.8 L547.4,569.3 L548.4,568.7 L549.4,568.2 L550.4,567.6 L551.4,567.1 L552.4,566.6 L553.4,566.0 L554.4,565.5 L555.4,565.0 L556.4,564.5 L557.4,564.0 L558.4,563.5 L559.4,563.0 L560.4,562.5 L561.4,562.1 L562.4,561.6 L563.4,561.2 L564.4,560.7 L565.4,560.3 L566.4,559.9 L567.4,559.5 L568.4,559.2 L569.4,558.8 L570.4,558.5 L571.4,558.1 L572.4,557.8 L573.4,557.5 L574.4,557.2 L575.4,557.0 L576.4,556.7 L577.4,556.5 L578.4,556.3 L579.4,556.0 L580.4,555.8 L581.4,555.7 L582.4,555.5 L583.4,555.3 L584.4,555.2 L585.4,555.0 L586.4,554.9 L587.4,554.8 L588.4,554.7 L589.4,554.5 L590.4,554.5 L591.4,554.4 L592.4,554.3 L593.4,554.2 L594.4,554.2 L595.4,554.1 L596.4,554.1 L597.4,554.0 L598.4,554.0 L599.4,554.0 L600.4,554.0 L601.4,554.0 L602.4,553.9 L603.4,553.9 L604.4,553.9 L605.4,554.0 L606.4,554.0 L607.4,554.0 L608.4,554.0 L609.4,554.0 L610.4,554.1 L611.4,554.1 L612.4,554.1 L613.4,554.2 L614.4,554.2 L615.4,554.2 L616.4,554.3 L617.4,554.3 L618.4,554.3 L619.4,554.4 L620.4,554.4 L621.4,554.5 L622.4,554.5 L623.4,554.6 L624.4,554.6 L625.4,554.7 L626.4,554.7 L627.4,554.8 L628.4,554.8 L629.4,554.9 L630.4,554.9 L631.4,555.0 L632.4,555.0 L633.4,555.1 L634.4,555.2 L635.4,555.2 L636.4,555.3 L637.4,555.3 L638.4,555.4 L639.4,555.5 L640.4,555.5 L641.4,555.6 L642.4,555.7 L643.4,555.7 L644.4,555.8 L645.4,555.9 L646.4,556.0 L647.4,556.0 L648.4,556.1 L649.4,556.2 L650.4,556.3 L651.4,556.3 L652.4,556.4 L653.4,556.5 L654.4,556.6 L655.4,556.6 L656.4,556.7 L657.4,556.8 L658.4,556.9 L659.4,557.0 L660.4,557.1 L661.4,557.1 L662.4,557.2 L663.4,557.3 L664.4,557.4 L665.4,557.5 L666.4,557.6 L667.4,557.7 L668.4,557.7 L669.4,557.8 L670.4,557.9 L671.4,558.0 L672.4,558.1 L673.4,558.2 L674.4,558.3 L675.4,558.4 L676.4,558.5 L677.4,558.6 L678.4,558.7 L679.4,558.8 L680.4,558.9 L681.4,559.0 L682.4,559.1 L683.4,559.2 L684.4,559.3 L685.4,559.4 L686.4,559.5 L687.4,559.6 L688.4,559.7 L689.4,559.8 L690.4,559.9 L691.4,560.0 L692.4,560.1 L693.4,560.2 L694.4,560.3 L695.4,560.4 L696.4,560.5 L697.4,560.6 L698.4,560.7 L699.4,560.8 L700.4,560.9 L701.4,561.0 L702.4,561.1 L703.4,561.3 L704.4,561.4 L705.4,561.5 L706.4,561.6 L707.4,561.7 L708.4,561.8 L709.4,561.9 L710.4,562.0 L711.4,562.1 L712.4,562.2 L713.4,562.4 L714.4,562.5 L715.4,562.6 L716.4,562.7 L717.4,562.8 L718.4,562.9 L719.4,563.0 L720.4,563.1 L721.4,563.2 L722.4,563.4 L723.4,563.5 L724.4,563.6 L725.4,563.7 L726.4,563.8 L727.4,563.9 L728.4,564.0 L729.4,564.1 L730.4,564.3 L731.4,564.4 L732.4,564.5 L733.4,564.6 L734.4,564.7 L735.4,564.8 L736.4,564.9 L737.4,565.1 L738.4,565.2 L739.4,565.3 L740.4,565.4 L741.4,565.5 L742.4,565.6 L743.4,565.7 L744.4,565.9 L745.4,566.0 L746.4,566.1 L747.4,566.2 L748.4,566.3 L749.4,566.4 L750.4,566.5 L751.4,566.6 L752.4,566.8 L753.4,566.9 L754.4,567.0 L755.4,567.1 L756.4,567.2 L757.4,567.3 L758.4,567.4 L759.4,567.5 L760.4,567.6 L761.4,567.8 L762.4,567.9 L763.4,568.0 L764.4,568.1 L765.4,568.2 L766.4,568.3 L767.4,568.4 L768.4,568.5 L769.4,568.6 L770.4,568.7 L771.4,568.8 L772.4,568.9 L773.4,569.1 L774.4,569.2 L775.4,569.3 L776.4,569.4 L777.4,569.5 L778.4,569.6 L779.4,569.7 L780.4,569.8 L781.4,569.9 L782.4,570.0 L783.4,570.1 L784.4,570.2 L785.4,570.3 L786.4,570.4 L787.4,570.5 L788.4,570.6 L789.4,570.7 L790.4,570.8 L791.4,570.9 L792.4,571.0 L793.4,571.1 L794.4,571.2 L795.4,571.3 L796.4,571.4 L797.4,571.5 L798.4,571.5 L799.4,571.6 L800.4,571.7 L801.4,571.8 L802.4,571.9 L803.4,572.0 L804.4,572.1 L805.4,572.2 L806.4,572.3 L807.4,572.4 L808.4,572.4 L809.4,572.5 L810.4,572.6 L811.4,572.7 L812.4,572.8 L813.4,572.9 L814.4,572.9 L815.4,573.0 L816.4,573.1 L817.4,573.2 L818.4,573.3 L819.4,573.3 L820.4,573.4 L821.4,573.5 L822.4,573.6 L823.4,573.6 L824.4,573.7 L825.4,573.8 L826.4,573.9 L827.4,573.9 L828.4,574.0 L829.4,574.1 L830.4,574.1 L831.4,574.2 L832.4,574.3 L833.4,574.3 L834.4,574.4 L835.4,574.4 L836.4,574.5 L837.4,574.6 L838.4,574.6 L839.4,574.7 L840.4,574.7 L841.4,574.8 L842.4,574.8 L843.4,574.9 L844.4,575.0 L845.4,575.0 L846.4,575.1 L846.9,575.1" stroke="#dd62ee"/>
</g>
<line x1="793.6" y1="352.0" x2="824.6" y2="352.0" stroke="#2f8c2f" stroke-width="1.6" opacity="0.9"/>
<line x1="793.6" y1="369.1" x2="824.6" y2="369.1" stroke="#5a5a5a" stroke-width="1.6" opacity="0.9"/>
<line x1="793.6" y1="386.2" x2="824.6" y2="386.2" stroke="#f39a35" stroke-width="1.6" opacity="0.9"/>
<line x1="793.6" y1="403.3" x2="824.6" y2="403.3" stroke="#e0546c" stroke-width="1.6" opacity="0.9"/>
<line x1="793.6" y1="420.4" x2="824.6" y2="420.4" stroke="#4a86dc" stroke-width="1.6" opacity="0.9"/>
<line x1="793.6" y1="437.5" x2="824.6" y2="437.5" stroke="#dd62ee" stroke-width="1.6" opacity="0.9"/>
<path d="M507.9,619.5 v-5 M564.5,619.5 v-5 M621.1,619.5 v-5 M677.7,619.5 v-5 M734.4,619.5 v-5 M791.0,619.5 v-5 M847.6,619.5 v-5 M536.2,619.5 v-3 M592.8,619.5 v-3 M649.4,619.5 v-3 M706.1,619.5 v-3 M762.7,619.5 v-3 M819.3,619.5 v-3 M507.9,619.5 h5 M507.9,569.7 h5 M507.9,519.8 h5 M507.9,470.0 h5 M507.9,420.1 h5 M507.9,370.3 h5 M507.9,594.6 h3 M507.9,544.7 h3 M507.9,494.9 h3 M507.9,445.1 h3 M507.9,395.2 h3 M507.9,345.4 h3" stroke="#000" stroke-width="1.6" fill="none"/>
<rect x="507.9" y="345.9" width="339.7" height="273.6" fill="none" stroke="#000" stroke-width="2"/>
</svg>
<div class="t leg" style="left:827.5px;top:343.8px">S1</div>
<div class="t leg" style="left:827.5px;top:360.9px">S2</div>
<div class="t leg" style="left:827.5px;top:378.0px">S3</div>
<div class="t leg" style="left:827.5px;top:395.1px">S4</div>
<div class="t leg" style="left:827.5px;top:412.2px">S5</div>
<div class="t leg" style="left:827.5px;top:429.3px">S6</div>
<div class="t dyl" style="left:480px;top:609.7px;text-align:left">0</div>
<div class="t dyl" style="left:444.5px;top:560.2px">0.1</div>
<div class="t dyl" style="left:444.5px;top:510.3px">0.2</div>
<div class="t dyl" style="left:444.5px;top:460.5px">0.3</div>
<div class="t dyl" style="left:444.5px;top:410.6px">0.4</div>
<div class="t dyl" style="left:444.5px;top:360.8px">0.5</div>
<div class="t dxl" style="left:477.5px;top:621px">400</div>
<div class="t dxl" style="left:538.9px;top:621px">450</div>
<div class="t dxl" style="left:594.6px;top:621px">500</div>
<div class="t dxl" style="left:651.0px;top:621px">550</div>
<div class="t dxl" style="left:707.3px;top:621px">600</div>
<div class="t dxl" style="left:763.6px;top:621px">650</div>
<div class="t dxl" style="left:820.2px;top:621px">700</div>
<div class="t xt" style="left:577.5px;top:640px;width:200px;letter-spacing:1.05px">Wavelength (nm)</div>
<div class="t yt" style="left:316.5px;top:471.4px;width:300px;letter-spacing:0.66px">Out-coupling Efficiency (%)</div>
<div class="t pl" style="left:453px;top:632.5px">(d)</div></div>
</body></html>
